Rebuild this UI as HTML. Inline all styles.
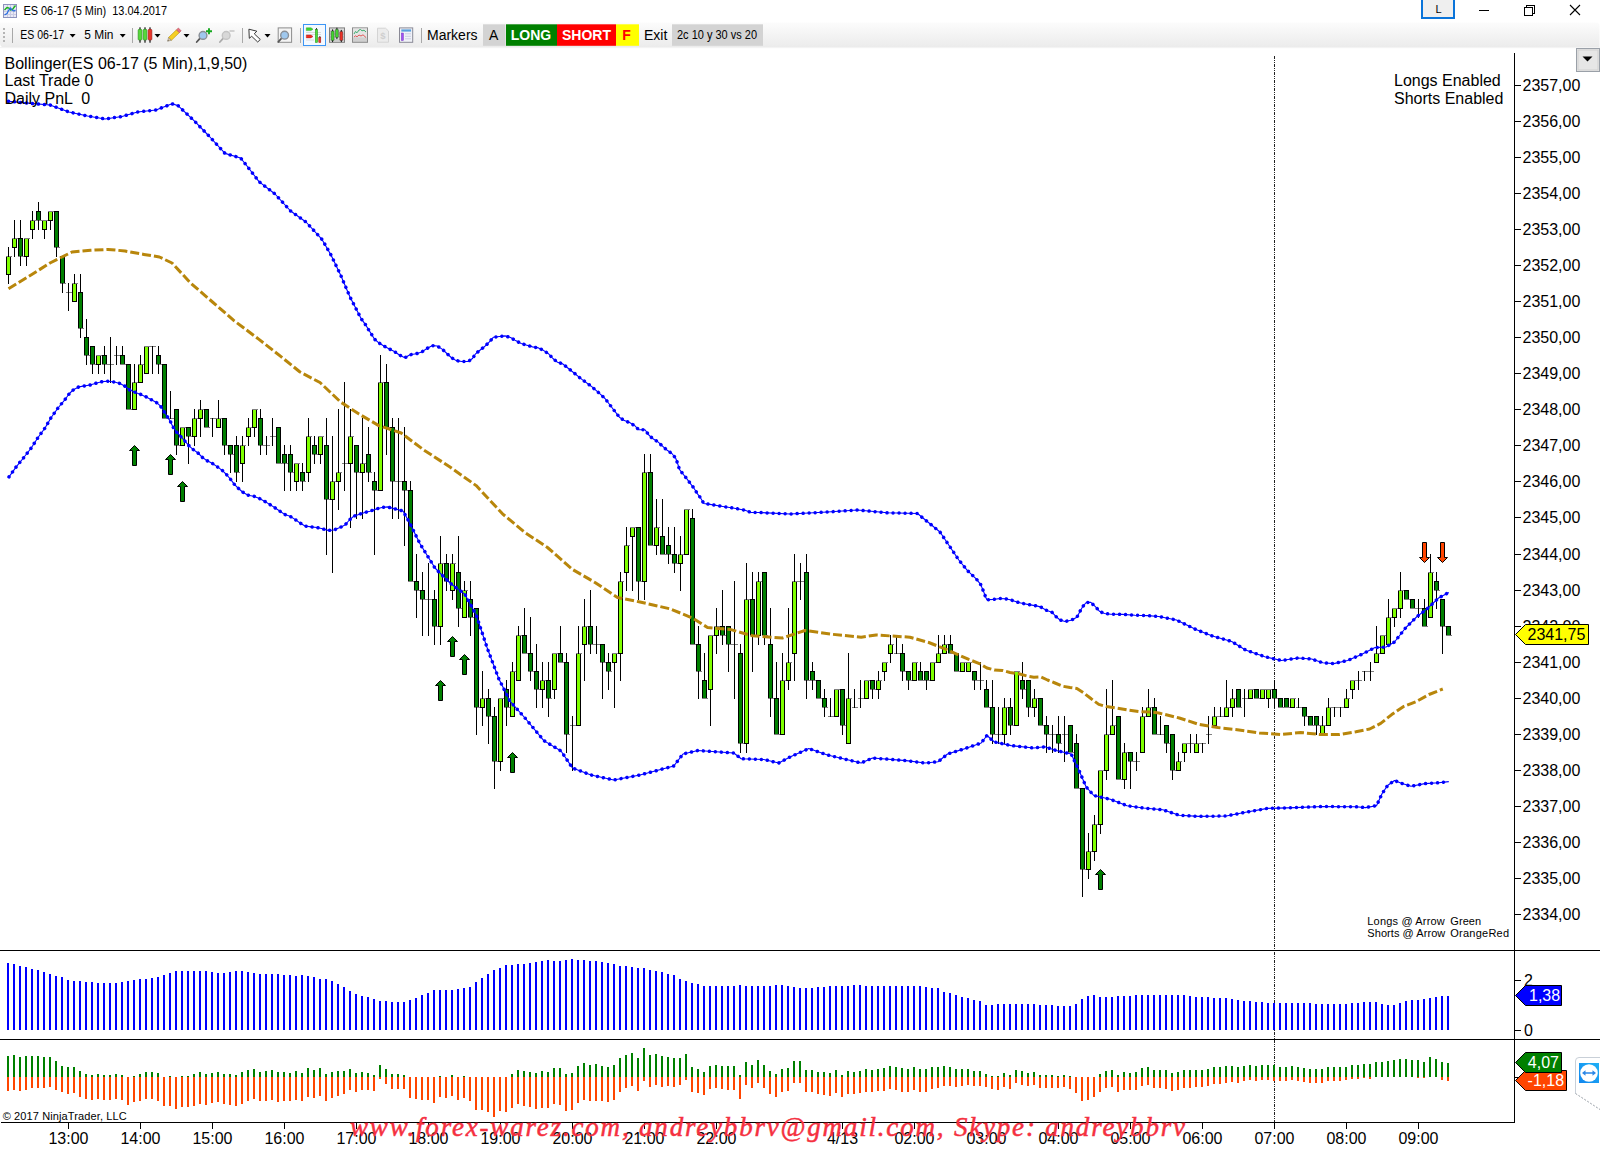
<!DOCTYPE html>
<html><head><meta charset="utf-8"><title>ES 06-17 (5 Min) 13.04.2017</title>
<style>html,body{margin:0;padding:0;background:#fff;}body{width:1600px;height:1160px;overflow:hidden;position:relative;font-family:"Liberation Sans",sans-serif;}svg{position:absolute;left:0;top:0;}text{font-family:"Liberation Sans",sans-serif;}</style></head><body>
<svg width="1600" height="1160" viewBox="0 0 1600 1160">
<defs><linearGradient id="tb" x1="0" y1="0" x2="0" y2="1"><stop offset="0" stop-color="#fcfcfc"/><stop offset="1" stop-color="#ebebeb"/></linearGradient><linearGradient id="tv" x1="0" y1="1" x2="1" y2="0"><stop offset="0" stop-color="#1287ee"/><stop offset="1" stop-color="#1fb0f6"/></linearGradient></defs>
<rect x="0" y="0" width="1600" height="1160" fill="#fff"/>
<path d="M0,22.5 H1596 Q1599.5,22.5 1599.5,26 V47.5 H5 Q0,47.5 0,43 Z" fill="url(#tb)"/>
<rect x="0" y="47" width="1600" height="1.2" fill="#f3f3f3"/>
<g><rect x="3.5" y="4.5" width="13" height="13" fill="#e9e9f5" stroke="#8e94bd" stroke-width="1"/><path d="M7.5,5 V17 M10.5,5 V17 M13.5,5 V17 M4,11.5 H16 M4,14.5 H16" stroke="#c9cbe2" stroke-width="1" fill="none"/><path d="M4.5,10 L7,7.5 L9,8 L10.5,10 L12.5,9.5 L15.5,5.5" stroke="#18b318" stroke-width="1.4" fill="none"/><path d="M4.5,15 L7,13.5 L8.5,10.5 L10.5,8 L12,10 L14,11 L15.5,10" stroke="#2a6fe0" stroke-width="1.3" fill="none"/></g>
<text x="23.4" y="15.4" font-size="12" textLength="143.6" lengthAdjust="spacingAndGlyphs" xml:space="preserve">ES 06-17 (5 Min)  13.04.2017</text>
<rect x="1422" y="-1" width="32" height="19" fill="#efefef" stroke="#0a74da" stroke-width="2"/>
<text x="1438.5" y="12.5" font-size="11" text-anchor="middle">L</text>
<g shape-rendering="crispEdges" fill="none" stroke="#000" stroke-width="1"><path d="M1479,10.5 H1489"/><path d="M1524.5,7.5 H1532.5 V15.5 H1524.5 Z"/><path d="M1526.5,7.5 V5.5 H1534.5 V13.5 H1532.5"/></g>
<path d="M1570,5 L1580,15 M1580,5 L1570,15" stroke="#000" stroke-width="1.1" fill="none"/>
<rect x="3" y="28" width="2" height="2" fill="#b4b4b4"/>
<rect x="3" y="32" width="2" height="2" fill="#b4b4b4"/>
<rect x="3" y="36" width="2" height="2" fill="#b4b4b4"/>
<rect x="3" y="40" width="2" height="2" fill="#b4b4b4"/>
<rect x="12" y="28" width="1" height="15" fill="#a8a8a8" shape-rendering="crispEdges"/>
<text x="20.3" y="38.9" font-size="12" textLength="43.9" lengthAdjust="spacingAndGlyphs">ES 06-17</text>
<path d="M69.6,34.0 H75.6 L72.6,37.4 Z" fill="#000"/>
<text x="84.3" y="38.9" font-size="12" textLength="29.2" lengthAdjust="spacingAndGlyphs">5 Min</text>
<path d="M119.7,34.0 H125.7 L122.7,37.4 Z" fill="#000"/>
<rect x="132" y="28" width="1" height="15" fill="#a8a8a8" shape-rendering="crispEdges"/>
<rect x="139.4" y="27.3" width="1.2" height="15.4" fill="#111"/>
<rect x="138.1" y="29.3" width="3.8" height="10.8" rx="1" fill="#57d83c" stroke="#1d7a10" stroke-width="0.5"/>
<rect x="144.4" y="27.3" width="1.2" height="15.4" fill="#111"/>
<rect x="143.1" y="29.3" width="3.8" height="10.8" rx="1" fill="#57d83c" stroke="#1d7a10" stroke-width="0.5"/>
<rect x="149.4" y="27.3" width="1.2" height="15.4" fill="#111"/>
<rect x="148.1" y="29.3" width="3.8" height="10.8" rx="1" fill="#e8362c" stroke="#8a1410" stroke-width="0.5"/>
<path d="M154.5,34.0 H160.5 L157.5,37.4 Z" fill="#000"/>
<g transform="translate(174.3,34.7) rotate(-44)"><rect x="-6" y="-2" width="11" height="4" fill="#f6cf23" stroke="#b8930c" stroke-width="0.6"/><rect x="5" y="-2" width="2.6" height="4" fill="#e8707e" stroke="#b04855" stroke-width="0.5"/><path d="M-6,-2 L-9.3,0 L-6,2 Z" fill="#d9c9a8" stroke="#8a7a60" stroke-width="0.5"/><path d="M-8.2,-0.7 L-9.3,0 L-8.2,0.7 Z" fill="#444"/></g>
<path d="M183.5,34.0 H189.5 L186.5,37.4 Z" fill="#000"/>
<path d="M200.2,38.199999999999996 L196.7,42.0" stroke="#555" stroke-width="1.8" stroke-linecap="round"/>
<circle cx="203" cy="35.4" r="3.9" fill="#9fc8ee" stroke="#8a8f96" stroke-width="1.4"/>
<path d="M209,28.3 V34.2 M206,31.25 H212" stroke="#14a81e" stroke-width="1.9"/>
<path d="M223.39999999999998,38.199999999999996 L219.89999999999998,42.0" stroke="#aaa" stroke-width="1.8" stroke-linecap="round"/>
<circle cx="226.2" cy="35.4" r="3.9" fill="#d8d8d8" stroke="#c4c4c4" stroke-width="1.4"/>
<path d="M229.5,31 H234.5" stroke="#c8c8c8" stroke-width="1.6"/>
<rect x="242" y="28" width="1" height="15" fill="#a8a8a8" shape-rendering="crispEdges"/>
<path d="M248.9,29.2 L249.3,38.3 L251.7,36.3 L257.7,42 L260.3,39.5 L254.3,33.8 L256.8,31.2 Z" fill="#fff" stroke="#222" stroke-width="0.9" stroke-linejoin="round"/>
<path d="M264.5,34.0 H270.5 L267.5,37.4 Z" fill="#000"/>
<rect x="278.2" y="27.9" width="13.4" height="14.4" fill="#f4f4f4" stroke="#8c8c8c" stroke-width="1"/>
<path d="M281.8,38.0 L278.3,41.800000000000004" stroke="#555" stroke-width="1.8" stroke-linecap="round"/>
<circle cx="284.6" cy="35.2" r="3.9" fill="#9fc8ee" stroke="#8a8f96" stroke-width="1.4"/>
<rect x="300" y="28" width="1" height="15" fill="#a8a8a8" shape-rendering="crispEdges"/>
<rect x="303.5" y="24.5" width="22" height="21" fill="#f4f9ff" stroke="#3c96f5" stroke-width="1"/>
<path d="M306,32.5 H321 M306,34.5 H321 M306,40 H314" stroke="#d2d2d2" stroke-width="0.8"/>
<path d="M306.3,27.8 H311 L313,29.2 L311,30.6 H306.3 Z" fill="#3fd42c" stroke="#1e9a12" stroke-width="0.4"/>
<path d="M306.3,35.1 H311 L313,36.5 L311,37.9 H306.3 Z" fill="#ee2e24" stroke="#a8140e" stroke-width="0.4"/>
<rect x="315.3" y="29.3" width="2.3" height="13.2" fill="#4fdc3a" stroke="#1e8a12" stroke-width="0.5"/>
<rect x="316" y="28" width="0.9" height="1.5" fill="#222"/>
<rect x="318.8" y="37.5" width="2" height="5" fill="#ee3a30" stroke="#99150f" stroke-width="0.5"/>
<rect x="319.4" y="36" width="0.9" height="1.5" fill="#222"/>
<rect x="329.5" y="27.9" width="15" height="14.4" fill="#dcdcdc" stroke="#7e7e7e" stroke-width="1"/>
<path d="M330,31 H344 M330,34 H344 M330,37 H344 M330,40 H344" stroke="#aaa" stroke-width="0.6"/>
<rect x="332.1" y="29.4" width="1" height="12.7" fill="#111"/>
<rect x="331.1" y="31" width="3" height="9.5" rx="0.8" fill="#44d430" stroke="#222" stroke-width="0.4"/>
<rect x="336.4" y="27.7" width="1" height="11.399999999999999" fill="#111"/>
<rect x="335.4" y="29.3" width="3" height="8.2" rx="0.8" fill="#44d430" stroke="#222" stroke-width="0.4"/>
<rect x="340.8" y="29.9" width="1" height="12.2" fill="#111"/>
<rect x="339.8" y="31.5" width="3" height="9.0" rx="0.8" fill="#ec3228" stroke="#222" stroke-width="0.4"/>
<rect x="352.5" y="27.9" width="15" height="14.4" fill="#d0d0d0" stroke="#8a8a8a" stroke-width="1"/>
<rect x="353" y="28.4" width="14" height="9" fill="#e4e4e4"/>
<path d="M354,34 L355.5,31.5 L357,32.8 L359,30 L360.5,29.5 L362,30.8 L364,30.2 L366,32" stroke="#2aa860" stroke-width="0.9" fill="none"/>
<path d="M354,37 L355.5,35.8 L357,36.8 L359,35 L361,36 L363,34.8 L366,37.5" stroke="#e04848" stroke-width="0.9" fill="none"/>
<path d="M377.5,28.2 H385.5 L388.5,31 V42.2 H377.5 Z" fill="#ececec" stroke="#d4d4d4" stroke-width="1"/>
<text x="383" y="39.3" font-size="9.5" font-weight="bold" fill="#cfcfcf" text-anchor="middle">$</text>
<rect x="399.5" y="27.9" width="13.2" height="14.4" fill="#f0f2f8" stroke="#8a8a96" stroke-width="1"/>
<rect x="401.3" y="29.4" width="9.8" height="2.2" fill="#5aa0dc"/>
<rect x="401.3" y="33" width="2.2" height="7.6" fill="#a050f5" stroke="#6a30b0" stroke-width="0.4"/>
<path d="M405,33.8 H411 M405,36.3 H411 M405,38.8 H411" stroke="#c6cbe0" stroke-width="0.9"/>
<rect x="421" y="28" width="1" height="15" fill="#a8a8a8" shape-rendering="crispEdges"/>
<text x="427" y="39.8" font-size="14">Markers</text>
<rect x="483" y="24.3" width="22.5" height="21.5" fill="#d3d3d3"/>
<text x="493.6" y="39.8" font-size="14" text-anchor="middle">A</text>
<rect x="506" y="24.3" width="51" height="21.5" fill="#008000"/>
<text x="531" y="39.8" font-size="14" font-weight="bold" fill="#fff" text-anchor="middle">LONG</text>
<rect x="557" y="24.3" width="59" height="21.5" fill="#ff0000"/>
<text x="586.5" y="39.8" font-size="14" font-weight="bold" fill="#fff" text-anchor="middle">SHORT</text>
<rect x="616" y="24.3" width="23" height="21.5" fill="#ffff00"/>
<text x="626.5" y="39.8" font-size="14" font-weight="bold" fill="#ff0000" text-anchor="middle">F</text>
<text x="644" y="39.8" font-size="14">Exit</text>
<rect x="672" y="24.3" width="91" height="21.5" fill="#d3d3d3"/>
<text x="677" y="38.9" font-size="12" textLength="80" lengthAdjust="spacingAndGlyphs">2c 10 y 30 vs 20</text>
<rect x="1576.5" y="48.5" width="23" height="23" fill="#e6e6e6" stroke="#9aa0a8" stroke-width="1"/>
<rect x="1578" y="50" width="20" height="20" fill="none" stroke="#d0d0d0" stroke-width="1"/>
<path d="M1582.5,56.5 H1592.5 L1587.5,61.5 Z" fill="#000"/>
<g id="chart">
<line x1="1274.5" y1="56" x2="1274.5" y2="1122" stroke="#222" stroke-width="1" stroke-dasharray="3 1 1 1 1 1" shape-rendering="crispEdges"/>
<g shape-rendering="crispEdges">
<rect x="8" y="247" width="1" height="37" fill="#000"/>
<rect x="6" y="256" width="5" height="19" fill="#000"/>
<rect x="7" y="257" width="3" height="17" fill="#7fff00"/>
<rect x="6" y="256" width="6" height="1" fill="#808080"/>
<rect x="8" y="256" width="1" height="1" fill="#000"/>
<rect x="14" y="220" width="1" height="37" fill="#000"/>
<rect x="12" y="238" width="5" height="10" fill="#000"/>
<rect x="13" y="239" width="3" height="8" fill="#7fff00"/>
<rect x="12" y="238" width="6" height="1" fill="#808080"/>
<rect x="14" y="238" width="1" height="1" fill="#000"/>
<rect x="20" y="220" width="1" height="46" fill="#000"/>
<rect x="18" y="238" width="5" height="19" fill="#000"/>
<rect x="19" y="239" width="3" height="17" fill="#008000"/>
<rect x="18" y="256" width="6" height="1" fill="#808080"/>
<rect x="20" y="256" width="1" height="1" fill="#000"/>
<rect x="26" y="238" width="1" height="28" fill="#000"/>
<rect x="24" y="238" width="5" height="19" fill="#000"/>
<rect x="25" y="239" width="3" height="17" fill="#7fff00"/>
<rect x="24" y="238" width="6" height="1" fill="#808080"/>
<rect x="32" y="211" width="1" height="28" fill="#000"/>
<rect x="30" y="220" width="5" height="10" fill="#000"/>
<rect x="31" y="221" width="3" height="8" fill="#7fff00"/>
<rect x="30" y="220" width="6" height="1" fill="#808080"/>
<rect x="32" y="220" width="1" height="1" fill="#000"/>
<rect x="38" y="202" width="1" height="28" fill="#000"/>
<rect x="36" y="211" width="5" height="10" fill="#000"/>
<rect x="37" y="212" width="3" height="8" fill="#008000"/>
<rect x="36" y="220" width="6" height="1" fill="#808080"/>
<rect x="38" y="220" width="1" height="1" fill="#000"/>
<rect x="44" y="220" width="1" height="19" fill="#000"/>
<rect x="42" y="220" width="5" height="10" fill="#000"/>
<rect x="43" y="221" width="3" height="8" fill="#7fff00"/>
<rect x="42" y="220" width="6" height="1" fill="#808080"/>
<rect x="50" y="211" width="1" height="19" fill="#000"/>
<rect x="48" y="211" width="5" height="10" fill="#000"/>
<rect x="49" y="212" width="3" height="8" fill="#7fff00"/>
<rect x="48" y="211" width="6" height="1" fill="#808080"/>
<rect x="56" y="211" width="1" height="46" fill="#000"/>
<rect x="54" y="211" width="5" height="37" fill="#000"/>
<rect x="55" y="212" width="3" height="35" fill="#008000"/>
<rect x="54" y="247" width="6" height="1" fill="#808080"/>
<rect x="56" y="247" width="1" height="1" fill="#000"/>
<rect x="62" y="256" width="1" height="37" fill="#000"/>
<rect x="60" y="256" width="5" height="28" fill="#000"/>
<rect x="61" y="257" width="3" height="26" fill="#008000"/>
<rect x="60" y="283" width="6" height="1" fill="#808080"/>
<rect x="62" y="283" width="1" height="1" fill="#000"/>
<rect x="66" y="292" width="6" height="1" fill="#808080"/>
<rect x="68" y="283" width="1" height="28" fill="#000"/>
<rect x="74" y="274" width="1" height="28" fill="#000"/>
<rect x="72" y="283" width="5" height="19" fill="#000"/>
<rect x="73" y="284" width="3" height="17" fill="#7fff00"/>
<rect x="72" y="283" width="6" height="1" fill="#808080"/>
<rect x="74" y="283" width="1" height="1" fill="#000"/>
<rect x="80" y="274" width="1" height="64" fill="#000"/>
<rect x="78" y="292" width="5" height="37" fill="#000"/>
<rect x="79" y="293" width="3" height="35" fill="#008000"/>
<rect x="78" y="328" width="6" height="1" fill="#808080"/>
<rect x="80" y="328" width="1" height="1" fill="#000"/>
<rect x="86" y="319" width="1" height="46" fill="#000"/>
<rect x="84" y="337" width="5" height="19" fill="#000"/>
<rect x="85" y="338" width="3" height="17" fill="#008000"/>
<rect x="84" y="355" width="6" height="1" fill="#808080"/>
<rect x="86" y="355" width="1" height="1" fill="#000"/>
<rect x="92" y="346" width="1" height="28" fill="#000"/>
<rect x="90" y="346" width="5" height="19" fill="#000"/>
<rect x="91" y="347" width="3" height="17" fill="#008000"/>
<rect x="90" y="364" width="6" height="1" fill="#808080"/>
<rect x="92" y="364" width="1" height="1" fill="#000"/>
<rect x="98" y="355" width="1" height="19" fill="#000"/>
<rect x="96" y="355" width="5" height="10" fill="#000"/>
<rect x="97" y="356" width="3" height="8" fill="#7fff00"/>
<rect x="96" y="355" width="6" height="1" fill="#808080"/>
<rect x="104" y="346" width="1" height="28" fill="#000"/>
<rect x="102" y="355" width="5" height="10" fill="#000"/>
<rect x="103" y="356" width="3" height="8" fill="#008000"/>
<rect x="102" y="364" width="6" height="1" fill="#808080"/>
<rect x="104" y="364" width="1" height="1" fill="#000"/>
<rect x="108" y="364" width="6" height="1" fill="#808080"/>
<rect x="110" y="337" width="1" height="46" fill="#000"/>
<rect x="114" y="355" width="6" height="1" fill="#808080"/>
<rect x="116" y="346" width="1" height="19" fill="#000"/>
<rect x="122" y="346" width="1" height="19" fill="#000"/>
<rect x="120" y="355" width="5" height="10" fill="#000"/>
<rect x="121" y="356" width="3" height="8" fill="#008000"/>
<rect x="120" y="364" width="6" height="1" fill="#808080"/>
<rect x="128" y="364" width="1" height="46" fill="#000"/>
<rect x="126" y="364" width="5" height="46" fill="#000"/>
<rect x="127" y="365" width="3" height="44" fill="#008000"/>
<rect x="126" y="409" width="6" height="1" fill="#808080"/>
<rect x="134" y="364" width="1" height="46" fill="#000"/>
<rect x="132" y="382" width="5" height="28" fill="#000"/>
<rect x="133" y="383" width="3" height="26" fill="#7fff00"/>
<rect x="132" y="382" width="6" height="1" fill="#808080"/>
<rect x="134" y="382" width="1" height="1" fill="#000"/>
<rect x="140" y="355" width="1" height="28" fill="#000"/>
<rect x="138" y="364" width="5" height="19" fill="#000"/>
<rect x="139" y="365" width="3" height="17" fill="#7fff00"/>
<rect x="138" y="364" width="6" height="1" fill="#808080"/>
<rect x="140" y="364" width="1" height="1" fill="#000"/>
<rect x="146" y="346" width="1" height="28" fill="#000"/>
<rect x="144" y="346" width="5" height="28" fill="#000"/>
<rect x="145" y="347" width="3" height="26" fill="#7fff00"/>
<rect x="144" y="346" width="6" height="1" fill="#808080"/>
<rect x="150" y="346" width="6" height="1" fill="#808080"/>
<rect x="152" y="346" width="1" height="28" fill="#000"/>
<rect x="158" y="346" width="1" height="28" fill="#000"/>
<rect x="156" y="355" width="5" height="10" fill="#000"/>
<rect x="157" y="356" width="3" height="8" fill="#008000"/>
<rect x="156" y="364" width="6" height="1" fill="#808080"/>
<rect x="158" y="364" width="1" height="1" fill="#000"/>
<rect x="164" y="364" width="1" height="55" fill="#000"/>
<rect x="162" y="364" width="5" height="55" fill="#000"/>
<rect x="163" y="365" width="3" height="53" fill="#008000"/>
<rect x="162" y="418" width="6" height="1" fill="#808080"/>
<rect x="168" y="418" width="6" height="1" fill="#808080"/>
<rect x="170" y="391" width="1" height="28" fill="#000"/>
<rect x="176" y="409" width="1" height="46" fill="#000"/>
<rect x="174" y="409" width="5" height="37" fill="#000"/>
<rect x="175" y="410" width="3" height="35" fill="#008000"/>
<rect x="174" y="445" width="6" height="1" fill="#808080"/>
<rect x="176" y="445" width="1" height="1" fill="#000"/>
<rect x="182" y="427" width="1" height="19" fill="#000"/>
<rect x="180" y="427" width="5" height="19" fill="#000"/>
<rect x="181" y="428" width="3" height="17" fill="#7fff00"/>
<rect x="180" y="427" width="6" height="1" fill="#808080"/>
<rect x="188" y="427" width="1" height="37" fill="#000"/>
<rect x="186" y="427" width="5" height="10" fill="#000"/>
<rect x="187" y="428" width="3" height="8" fill="#008000"/>
<rect x="186" y="436" width="6" height="1" fill="#808080"/>
<rect x="188" y="436" width="1" height="1" fill="#000"/>
<rect x="194" y="409" width="1" height="37" fill="#000"/>
<rect x="192" y="418" width="5" height="19" fill="#000"/>
<rect x="193" y="419" width="3" height="17" fill="#7fff00"/>
<rect x="192" y="418" width="6" height="1" fill="#808080"/>
<rect x="194" y="418" width="1" height="1" fill="#000"/>
<rect x="200" y="400" width="1" height="37" fill="#000"/>
<rect x="198" y="409" width="5" height="10" fill="#000"/>
<rect x="199" y="410" width="3" height="8" fill="#7fff00"/>
<rect x="198" y="409" width="6" height="1" fill="#808080"/>
<rect x="200" y="409" width="1" height="1" fill="#000"/>
<rect x="206" y="409" width="1" height="19" fill="#000"/>
<rect x="204" y="409" width="5" height="19" fill="#000"/>
<rect x="205" y="410" width="3" height="17" fill="#008000"/>
<rect x="204" y="427" width="6" height="1" fill="#808080"/>
<rect x="210" y="418" width="6" height="1" fill="#808080"/>
<rect x="212" y="418" width="1" height="19" fill="#000"/>
<rect x="218" y="400" width="1" height="28" fill="#000"/>
<rect x="216" y="418" width="5" height="10" fill="#000"/>
<rect x="217" y="419" width="3" height="8" fill="#7fff00"/>
<rect x="216" y="418" width="6" height="1" fill="#808080"/>
<rect x="218" y="418" width="1" height="1" fill="#000"/>
<rect x="224" y="418" width="1" height="37" fill="#000"/>
<rect x="222" y="418" width="5" height="28" fill="#000"/>
<rect x="223" y="419" width="3" height="26" fill="#008000"/>
<rect x="222" y="445" width="6" height="1" fill="#808080"/>
<rect x="224" y="445" width="1" height="1" fill="#000"/>
<rect x="230" y="445" width="1" height="28" fill="#000"/>
<rect x="228" y="445" width="5" height="10" fill="#000"/>
<rect x="229" y="446" width="3" height="8" fill="#008000"/>
<rect x="228" y="454" width="6" height="1" fill="#808080"/>
<rect x="230" y="454" width="1" height="1" fill="#000"/>
<rect x="236" y="436" width="1" height="46" fill="#000"/>
<rect x="234" y="445" width="5" height="28" fill="#000"/>
<rect x="235" y="446" width="3" height="26" fill="#008000"/>
<rect x="234" y="472" width="6" height="1" fill="#808080"/>
<rect x="236" y="472" width="1" height="1" fill="#000"/>
<rect x="242" y="436" width="1" height="46" fill="#000"/>
<rect x="240" y="445" width="5" height="19" fill="#000"/>
<rect x="241" y="446" width="3" height="17" fill="#7fff00"/>
<rect x="240" y="445" width="6" height="1" fill="#808080"/>
<rect x="242" y="445" width="1" height="1" fill="#000"/>
<rect x="248" y="418" width="1" height="28" fill="#000"/>
<rect x="246" y="427" width="5" height="10" fill="#000"/>
<rect x="247" y="428" width="3" height="8" fill="#7fff00"/>
<rect x="246" y="427" width="6" height="1" fill="#808080"/>
<rect x="248" y="427" width="1" height="1" fill="#000"/>
<rect x="254" y="409" width="1" height="28" fill="#000"/>
<rect x="252" y="409" width="5" height="19" fill="#000"/>
<rect x="253" y="410" width="3" height="17" fill="#7fff00"/>
<rect x="252" y="409" width="6" height="1" fill="#808080"/>
<rect x="260" y="409" width="1" height="46" fill="#000"/>
<rect x="258" y="418" width="5" height="28" fill="#000"/>
<rect x="259" y="419" width="3" height="26" fill="#008000"/>
<rect x="258" y="445" width="6" height="1" fill="#808080"/>
<rect x="260" y="445" width="1" height="1" fill="#000"/>
<rect x="264" y="445" width="6" height="1" fill="#808080"/>
<rect x="266" y="436" width="1" height="19" fill="#000"/>
<rect x="270" y="436" width="6" height="1" fill="#808080"/>
<rect x="272" y="418" width="1" height="28" fill="#000"/>
<rect x="278" y="427" width="1" height="37" fill="#000"/>
<rect x="276" y="427" width="5" height="37" fill="#000"/>
<rect x="277" y="428" width="3" height="35" fill="#008000"/>
<rect x="276" y="463" width="6" height="1" fill="#808080"/>
<rect x="284" y="445" width="1" height="46" fill="#000"/>
<rect x="282" y="454" width="5" height="10" fill="#000"/>
<rect x="283" y="455" width="3" height="8" fill="#008000"/>
<rect x="282" y="463" width="6" height="1" fill="#808080"/>
<rect x="284" y="463" width="1" height="1" fill="#000"/>
<rect x="290" y="445" width="1" height="46" fill="#000"/>
<rect x="288" y="454" width="5" height="19" fill="#000"/>
<rect x="289" y="455" width="3" height="17" fill="#008000"/>
<rect x="288" y="472" width="6" height="1" fill="#808080"/>
<rect x="290" y="472" width="1" height="1" fill="#000"/>
<rect x="296" y="463" width="1" height="28" fill="#000"/>
<rect x="294" y="463" width="5" height="19" fill="#000"/>
<rect x="295" y="464" width="3" height="17" fill="#7fff00"/>
<rect x="294" y="463" width="6" height="1" fill="#808080"/>
<rect x="302" y="463" width="1" height="28" fill="#000"/>
<rect x="300" y="472" width="5" height="10" fill="#000"/>
<rect x="301" y="473" width="3" height="8" fill="#008000"/>
<rect x="300" y="481" width="6" height="1" fill="#808080"/>
<rect x="302" y="481" width="1" height="1" fill="#000"/>
<rect x="308" y="418" width="1" height="64" fill="#000"/>
<rect x="306" y="436" width="5" height="37" fill="#000"/>
<rect x="307" y="437" width="3" height="35" fill="#7fff00"/>
<rect x="306" y="436" width="6" height="1" fill="#808080"/>
<rect x="308" y="436" width="1" height="1" fill="#000"/>
<rect x="314" y="436" width="1" height="28" fill="#000"/>
<rect x="312" y="445" width="5" height="10" fill="#000"/>
<rect x="313" y="446" width="3" height="8" fill="#008000"/>
<rect x="312" y="454" width="6" height="1" fill="#808080"/>
<rect x="314" y="454" width="1" height="1" fill="#000"/>
<rect x="320" y="436" width="1" height="28" fill="#000"/>
<rect x="318" y="436" width="5" height="19" fill="#000"/>
<rect x="319" y="437" width="3" height="17" fill="#7fff00"/>
<rect x="318" y="436" width="6" height="1" fill="#808080"/>
<rect x="326" y="418" width="1" height="137" fill="#000"/>
<rect x="324" y="445" width="5" height="55" fill="#000"/>
<rect x="325" y="446" width="3" height="53" fill="#008000"/>
<rect x="324" y="499" width="6" height="1" fill="#808080"/>
<rect x="326" y="499" width="1" height="1" fill="#000"/>
<rect x="332" y="436" width="1" height="137" fill="#000"/>
<rect x="330" y="481" width="5" height="19" fill="#000"/>
<rect x="331" y="482" width="3" height="17" fill="#7fff00"/>
<rect x="330" y="481" width="6" height="1" fill="#808080"/>
<rect x="332" y="481" width="1" height="1" fill="#000"/>
<rect x="338" y="409" width="1" height="101" fill="#000"/>
<rect x="336" y="472" width="5" height="10" fill="#000"/>
<rect x="337" y="473" width="3" height="8" fill="#7fff00"/>
<rect x="336" y="472" width="6" height="1" fill="#808080"/>
<rect x="338" y="472" width="1" height="1" fill="#000"/>
<rect x="342" y="463" width="6" height="1" fill="#808080"/>
<rect x="344" y="382" width="1" height="109" fill="#000"/>
<rect x="350" y="409" width="1" height="119" fill="#000"/>
<rect x="348" y="436" width="5" height="28" fill="#000"/>
<rect x="349" y="437" width="3" height="26" fill="#7fff00"/>
<rect x="348" y="436" width="6" height="1" fill="#808080"/>
<rect x="350" y="436" width="1" height="1" fill="#000"/>
<rect x="356" y="445" width="1" height="74" fill="#000"/>
<rect x="354" y="445" width="5" height="28" fill="#000"/>
<rect x="355" y="446" width="3" height="26" fill="#008000"/>
<rect x="354" y="472" width="6" height="1" fill="#808080"/>
<rect x="356" y="472" width="1" height="1" fill="#000"/>
<rect x="362" y="418" width="1" height="101" fill="#000"/>
<rect x="360" y="463" width="5" height="10" fill="#000"/>
<rect x="361" y="464" width="3" height="8" fill="#7fff00"/>
<rect x="360" y="463" width="6" height="1" fill="#808080"/>
<rect x="362" y="463" width="1" height="1" fill="#000"/>
<rect x="368" y="427" width="1" height="55" fill="#000"/>
<rect x="366" y="454" width="5" height="19" fill="#000"/>
<rect x="367" y="455" width="3" height="17" fill="#008000"/>
<rect x="366" y="472" width="6" height="1" fill="#808080"/>
<rect x="368" y="472" width="1" height="1" fill="#000"/>
<rect x="374" y="472" width="1" height="83" fill="#000"/>
<rect x="372" y="481" width="5" height="10" fill="#000"/>
<rect x="373" y="482" width="3" height="8" fill="#008000"/>
<rect x="372" y="490" width="6" height="1" fill="#808080"/>
<rect x="374" y="490" width="1" height="1" fill="#000"/>
<rect x="380" y="355" width="1" height="136" fill="#000"/>
<rect x="378" y="382" width="5" height="109" fill="#000"/>
<rect x="379" y="383" width="3" height="107" fill="#7fff00"/>
<rect x="378" y="382" width="6" height="1" fill="#808080"/>
<rect x="380" y="382" width="1" height="1" fill="#000"/>
<rect x="386" y="364" width="1" height="91" fill="#000"/>
<rect x="384" y="382" width="5" height="46" fill="#000"/>
<rect x="385" y="383" width="3" height="44" fill="#008000"/>
<rect x="384" y="427" width="6" height="1" fill="#808080"/>
<rect x="386" y="427" width="1" height="1" fill="#000"/>
<rect x="392" y="418" width="1" height="101" fill="#000"/>
<rect x="390" y="427" width="5" height="55" fill="#000"/>
<rect x="391" y="428" width="3" height="53" fill="#008000"/>
<rect x="390" y="481" width="6" height="1" fill="#808080"/>
<rect x="392" y="481" width="1" height="1" fill="#000"/>
<rect x="396" y="481" width="6" height="1" fill="#808080"/>
<rect x="398" y="418" width="1" height="101" fill="#000"/>
<rect x="404" y="427" width="1" height="119" fill="#000"/>
<rect x="402" y="481" width="5" height="10" fill="#000"/>
<rect x="403" y="482" width="3" height="8" fill="#008000"/>
<rect x="402" y="490" width="6" height="1" fill="#808080"/>
<rect x="404" y="490" width="1" height="1" fill="#000"/>
<rect x="410" y="481" width="1" height="101" fill="#000"/>
<rect x="408" y="490" width="5" height="92" fill="#000"/>
<rect x="409" y="491" width="3" height="90" fill="#008000"/>
<rect x="408" y="581" width="6" height="1" fill="#808080"/>
<rect x="416" y="554" width="1" height="64" fill="#000"/>
<rect x="414" y="581" width="5" height="10" fill="#000"/>
<rect x="415" y="582" width="3" height="8" fill="#008000"/>
<rect x="414" y="590" width="6" height="1" fill="#808080"/>
<rect x="416" y="590" width="1" height="1" fill="#000"/>
<rect x="422" y="572" width="1" height="64" fill="#000"/>
<rect x="420" y="590" width="5" height="10" fill="#000"/>
<rect x="421" y="591" width="3" height="8" fill="#008000"/>
<rect x="420" y="599" width="6" height="1" fill="#808080"/>
<rect x="422" y="599" width="1" height="1" fill="#000"/>
<rect x="426" y="599" width="6" height="1" fill="#808080"/>
<rect x="428" y="563" width="1" height="73" fill="#000"/>
<rect x="434" y="590" width="1" height="55" fill="#000"/>
<rect x="432" y="599" width="5" height="28" fill="#000"/>
<rect x="433" y="600" width="3" height="26" fill="#008000"/>
<rect x="432" y="626" width="6" height="1" fill="#808080"/>
<rect x="434" y="626" width="1" height="1" fill="#000"/>
<rect x="440" y="536" width="1" height="109" fill="#000"/>
<rect x="438" y="563" width="5" height="64" fill="#000"/>
<rect x="439" y="564" width="3" height="62" fill="#7fff00"/>
<rect x="438" y="563" width="6" height="1" fill="#808080"/>
<rect x="440" y="563" width="1" height="1" fill="#000"/>
<rect x="446" y="554" width="1" height="37" fill="#000"/>
<rect x="444" y="563" width="5" height="19" fill="#000"/>
<rect x="445" y="564" width="3" height="17" fill="#008000"/>
<rect x="444" y="581" width="6" height="1" fill="#808080"/>
<rect x="446" y="581" width="1" height="1" fill="#000"/>
<rect x="452" y="554" width="1" height="46" fill="#000"/>
<rect x="450" y="563" width="5" height="28" fill="#000"/>
<rect x="451" y="564" width="3" height="26" fill="#7fff00"/>
<rect x="450" y="563" width="6" height="1" fill="#808080"/>
<rect x="452" y="563" width="1" height="1" fill="#000"/>
<rect x="458" y="536" width="1" height="91" fill="#000"/>
<rect x="456" y="572" width="5" height="37" fill="#000"/>
<rect x="457" y="573" width="3" height="35" fill="#008000"/>
<rect x="456" y="608" width="6" height="1" fill="#808080"/>
<rect x="458" y="608" width="1" height="1" fill="#000"/>
<rect x="464" y="581" width="1" height="37" fill="#000"/>
<rect x="462" y="590" width="5" height="28" fill="#000"/>
<rect x="463" y="591" width="3" height="26" fill="#7fff00"/>
<rect x="462" y="590" width="6" height="1" fill="#808080"/>
<rect x="464" y="590" width="1" height="1" fill="#000"/>
<rect x="470" y="581" width="1" height="55" fill="#000"/>
<rect x="468" y="599" width="5" height="19" fill="#000"/>
<rect x="469" y="600" width="3" height="17" fill="#008000"/>
<rect x="468" y="617" width="6" height="1" fill="#808080"/>
<rect x="470" y="617" width="1" height="1" fill="#000"/>
<rect x="476" y="608" width="1" height="127" fill="#000"/>
<rect x="474" y="608" width="5" height="100" fill="#000"/>
<rect x="475" y="609" width="3" height="98" fill="#008000"/>
<rect x="474" y="707" width="6" height="1" fill="#808080"/>
<rect x="476" y="707" width="1" height="1" fill="#000"/>
<rect x="482" y="671" width="1" height="55" fill="#000"/>
<rect x="480" y="698" width="5" height="10" fill="#000"/>
<rect x="481" y="699" width="3" height="8" fill="#7fff00"/>
<rect x="480" y="698" width="6" height="1" fill="#808080"/>
<rect x="482" y="698" width="1" height="1" fill="#000"/>
<rect x="488" y="689" width="1" height="55" fill="#000"/>
<rect x="486" y="698" width="5" height="19" fill="#000"/>
<rect x="487" y="699" width="3" height="17" fill="#008000"/>
<rect x="486" y="716" width="6" height="1" fill="#808080"/>
<rect x="488" y="716" width="1" height="1" fill="#000"/>
<rect x="494" y="707" width="1" height="82" fill="#000"/>
<rect x="492" y="716" width="5" height="46" fill="#000"/>
<rect x="493" y="717" width="3" height="44" fill="#008000"/>
<rect x="492" y="761" width="6" height="1" fill="#808080"/>
<rect x="494" y="761" width="1" height="1" fill="#000"/>
<rect x="500" y="698" width="1" height="73" fill="#000"/>
<rect x="498" y="698" width="5" height="64" fill="#000"/>
<rect x="499" y="699" width="3" height="62" fill="#7fff00"/>
<rect x="498" y="698" width="6" height="1" fill="#808080"/>
<rect x="506" y="680" width="1" height="46" fill="#000"/>
<rect x="504" y="689" width="5" height="19" fill="#000"/>
<rect x="505" y="690" width="3" height="17" fill="#008000"/>
<rect x="504" y="707" width="6" height="1" fill="#808080"/>
<rect x="506" y="707" width="1" height="1" fill="#000"/>
<rect x="512" y="662" width="1" height="55" fill="#000"/>
<rect x="510" y="671" width="5" height="46" fill="#000"/>
<rect x="511" y="672" width="3" height="44" fill="#7fff00"/>
<rect x="510" y="671" width="6" height="1" fill="#808080"/>
<rect x="512" y="671" width="1" height="1" fill="#000"/>
<rect x="518" y="626" width="1" height="55" fill="#000"/>
<rect x="516" y="635" width="5" height="46" fill="#000"/>
<rect x="517" y="636" width="3" height="44" fill="#7fff00"/>
<rect x="516" y="635" width="6" height="1" fill="#808080"/>
<rect x="518" y="635" width="1" height="1" fill="#000"/>
<rect x="524" y="608" width="1" height="46" fill="#000"/>
<rect x="522" y="635" width="5" height="19" fill="#000"/>
<rect x="523" y="636" width="3" height="17" fill="#008000"/>
<rect x="522" y="653" width="6" height="1" fill="#808080"/>
<rect x="530" y="617" width="1" height="64" fill="#000"/>
<rect x="528" y="653" width="5" height="19" fill="#000"/>
<rect x="529" y="654" width="3" height="17" fill="#008000"/>
<rect x="528" y="671" width="6" height="1" fill="#808080"/>
<rect x="530" y="671" width="1" height="1" fill="#000"/>
<rect x="536" y="644" width="1" height="64" fill="#000"/>
<rect x="534" y="671" width="5" height="19" fill="#000"/>
<rect x="535" y="672" width="3" height="17" fill="#008000"/>
<rect x="534" y="689" width="6" height="1" fill="#808080"/>
<rect x="536" y="689" width="1" height="1" fill="#000"/>
<rect x="542" y="662" width="1" height="46" fill="#000"/>
<rect x="540" y="680" width="5" height="10" fill="#000"/>
<rect x="541" y="681" width="3" height="8" fill="#7fff00"/>
<rect x="540" y="680" width="6" height="1" fill="#808080"/>
<rect x="542" y="680" width="1" height="1" fill="#000"/>
<rect x="548" y="662" width="1" height="55" fill="#000"/>
<rect x="546" y="680" width="5" height="19" fill="#000"/>
<rect x="547" y="681" width="3" height="17" fill="#008000"/>
<rect x="546" y="698" width="6" height="1" fill="#808080"/>
<rect x="548" y="698" width="1" height="1" fill="#000"/>
<rect x="554" y="653" width="1" height="46" fill="#000"/>
<rect x="552" y="653" width="5" height="37" fill="#000"/>
<rect x="553" y="654" width="3" height="35" fill="#7fff00"/>
<rect x="552" y="653" width="6" height="1" fill="#808080"/>
<rect x="560" y="626" width="1" height="37" fill="#000"/>
<rect x="558" y="653" width="5" height="10" fill="#000"/>
<rect x="559" y="654" width="3" height="8" fill="#008000"/>
<rect x="558" y="662" width="6" height="1" fill="#808080"/>
<rect x="566" y="653" width="1" height="100" fill="#000"/>
<rect x="564" y="662" width="5" height="73" fill="#000"/>
<rect x="565" y="663" width="3" height="71" fill="#008000"/>
<rect x="564" y="734" width="6" height="1" fill="#808080"/>
<rect x="566" y="734" width="1" height="1" fill="#000"/>
<rect x="570" y="725" width="6" height="1" fill="#808080"/>
<rect x="572" y="716" width="1" height="55" fill="#000"/>
<rect x="578" y="626" width="1" height="100" fill="#000"/>
<rect x="576" y="653" width="5" height="73" fill="#000"/>
<rect x="577" y="654" width="3" height="71" fill="#7fff00"/>
<rect x="576" y="653" width="6" height="1" fill="#808080"/>
<rect x="578" y="653" width="1" height="1" fill="#000"/>
<rect x="584" y="599" width="1" height="82" fill="#000"/>
<rect x="582" y="626" width="5" height="19" fill="#000"/>
<rect x="583" y="627" width="3" height="17" fill="#7fff00"/>
<rect x="582" y="626" width="6" height="1" fill="#808080"/>
<rect x="584" y="626" width="1" height="1" fill="#000"/>
<rect x="590" y="590" width="1" height="64" fill="#000"/>
<rect x="588" y="626" width="5" height="19" fill="#000"/>
<rect x="589" y="627" width="3" height="17" fill="#008000"/>
<rect x="588" y="644" width="6" height="1" fill="#808080"/>
<rect x="590" y="644" width="1" height="1" fill="#000"/>
<rect x="594" y="644" width="6" height="1" fill="#808080"/>
<rect x="596" y="626" width="1" height="28" fill="#000"/>
<rect x="602" y="644" width="1" height="55" fill="#000"/>
<rect x="600" y="644" width="5" height="19" fill="#000"/>
<rect x="601" y="645" width="3" height="17" fill="#008000"/>
<rect x="600" y="662" width="6" height="1" fill="#808080"/>
<rect x="602" y="662" width="1" height="1" fill="#000"/>
<rect x="608" y="653" width="1" height="37" fill="#000"/>
<rect x="606" y="662" width="5" height="10" fill="#000"/>
<rect x="607" y="663" width="3" height="8" fill="#008000"/>
<rect x="606" y="671" width="6" height="1" fill="#808080"/>
<rect x="608" y="671" width="1" height="1" fill="#000"/>
<rect x="614" y="653" width="1" height="55" fill="#000"/>
<rect x="612" y="653" width="5" height="10" fill="#000"/>
<rect x="613" y="654" width="3" height="8" fill="#7fff00"/>
<rect x="612" y="653" width="6" height="1" fill="#808080"/>
<rect x="620" y="572" width="1" height="109" fill="#000"/>
<rect x="618" y="581" width="5" height="73" fill="#000"/>
<rect x="619" y="582" width="3" height="71" fill="#7fff00"/>
<rect x="618" y="581" width="6" height="1" fill="#808080"/>
<rect x="620" y="581" width="1" height="1" fill="#000"/>
<rect x="626" y="527" width="1" height="64" fill="#000"/>
<rect x="624" y="545" width="5" height="28" fill="#000"/>
<rect x="625" y="546" width="3" height="26" fill="#7fff00"/>
<rect x="624" y="545" width="6" height="1" fill="#808080"/>
<rect x="626" y="545" width="1" height="1" fill="#000"/>
<rect x="632" y="527" width="1" height="64" fill="#000"/>
<rect x="630" y="527" width="5" height="10" fill="#000"/>
<rect x="631" y="528" width="3" height="8" fill="#7fff00"/>
<rect x="630" y="527" width="6" height="1" fill="#808080"/>
<rect x="638" y="527" width="1" height="73" fill="#000"/>
<rect x="636" y="527" width="5" height="55" fill="#000"/>
<rect x="637" y="528" width="3" height="53" fill="#008000"/>
<rect x="636" y="581" width="6" height="1" fill="#808080"/>
<rect x="638" y="581" width="1" height="1" fill="#000"/>
<rect x="644" y="454" width="1" height="146" fill="#000"/>
<rect x="642" y="472" width="5" height="110" fill="#000"/>
<rect x="643" y="473" width="3" height="108" fill="#7fff00"/>
<rect x="642" y="472" width="6" height="1" fill="#808080"/>
<rect x="644" y="472" width="1" height="1" fill="#000"/>
<rect x="650" y="454" width="1" height="92" fill="#000"/>
<rect x="648" y="472" width="5" height="74" fill="#000"/>
<rect x="649" y="473" width="3" height="72" fill="#008000"/>
<rect x="648" y="545" width="6" height="1" fill="#808080"/>
<rect x="656" y="499" width="1" height="56" fill="#000"/>
<rect x="654" y="527" width="5" height="19" fill="#000"/>
<rect x="655" y="528" width="3" height="17" fill="#7fff00"/>
<rect x="654" y="527" width="6" height="1" fill="#808080"/>
<rect x="656" y="527" width="1" height="1" fill="#000"/>
<rect x="662" y="499" width="1" height="56" fill="#000"/>
<rect x="660" y="536" width="5" height="19" fill="#000"/>
<rect x="661" y="537" width="3" height="17" fill="#008000"/>
<rect x="660" y="554" width="6" height="1" fill="#808080"/>
<rect x="668" y="527" width="1" height="37" fill="#000"/>
<rect x="666" y="545" width="5" height="10" fill="#000"/>
<rect x="667" y="546" width="3" height="8" fill="#008000"/>
<rect x="666" y="554" width="6" height="1" fill="#808080"/>
<rect x="668" y="554" width="1" height="1" fill="#000"/>
<rect x="674" y="527" width="1" height="46" fill="#000"/>
<rect x="672" y="554" width="5" height="10" fill="#000"/>
<rect x="673" y="555" width="3" height="8" fill="#008000"/>
<rect x="672" y="563" width="6" height="1" fill="#808080"/>
<rect x="674" y="563" width="1" height="1" fill="#000"/>
<rect x="680" y="536" width="1" height="55" fill="#000"/>
<rect x="678" y="554" width="5" height="10" fill="#000"/>
<rect x="679" y="555" width="3" height="8" fill="#7fff00"/>
<rect x="678" y="554" width="6" height="1" fill="#808080"/>
<rect x="680" y="554" width="1" height="1" fill="#000"/>
<rect x="686" y="509" width="1" height="46" fill="#000"/>
<rect x="684" y="509" width="5" height="46" fill="#000"/>
<rect x="685" y="510" width="3" height="44" fill="#7fff00"/>
<rect x="684" y="509" width="6" height="1" fill="#808080"/>
<rect x="692" y="509" width="1" height="136" fill="#000"/>
<rect x="690" y="518" width="5" height="127" fill="#000"/>
<rect x="691" y="519" width="3" height="125" fill="#008000"/>
<rect x="690" y="644" width="6" height="1" fill="#808080"/>
<rect x="698" y="626" width="1" height="73" fill="#000"/>
<rect x="696" y="644" width="5" height="28" fill="#000"/>
<rect x="697" y="645" width="3" height="26" fill="#008000"/>
<rect x="696" y="671" width="6" height="1" fill="#808080"/>
<rect x="698" y="671" width="1" height="1" fill="#000"/>
<rect x="704" y="653" width="1" height="46" fill="#000"/>
<rect x="702" y="680" width="5" height="19" fill="#000"/>
<rect x="703" y="681" width="3" height="17" fill="#008000"/>
<rect x="702" y="698" width="6" height="1" fill="#808080"/>
<rect x="710" y="635" width="1" height="91" fill="#000"/>
<rect x="708" y="635" width="5" height="55" fill="#000"/>
<rect x="709" y="636" width="3" height="53" fill="#7fff00"/>
<rect x="708" y="635" width="6" height="1" fill="#808080"/>
<rect x="716" y="608" width="1" height="46" fill="#000"/>
<rect x="714" y="626" width="5" height="10" fill="#000"/>
<rect x="715" y="627" width="3" height="8" fill="#7fff00"/>
<rect x="714" y="626" width="6" height="1" fill="#808080"/>
<rect x="716" y="626" width="1" height="1" fill="#000"/>
<rect x="722" y="590" width="1" height="55" fill="#000"/>
<rect x="720" y="626" width="5" height="10" fill="#000"/>
<rect x="721" y="627" width="3" height="8" fill="#008000"/>
<rect x="720" y="635" width="6" height="1" fill="#808080"/>
<rect x="722" y="635" width="1" height="1" fill="#000"/>
<rect x="728" y="626" width="1" height="46" fill="#000"/>
<rect x="726" y="626" width="5" height="19" fill="#000"/>
<rect x="727" y="627" width="3" height="17" fill="#008000"/>
<rect x="726" y="644" width="6" height="1" fill="#808080"/>
<rect x="728" y="644" width="1" height="1" fill="#000"/>
<rect x="732" y="644" width="6" height="1" fill="#808080"/>
<rect x="734" y="581" width="1" height="118" fill="#000"/>
<rect x="740" y="644" width="1" height="109" fill="#000"/>
<rect x="738" y="653" width="5" height="91" fill="#000"/>
<rect x="739" y="654" width="3" height="89" fill="#008000"/>
<rect x="738" y="743" width="6" height="1" fill="#808080"/>
<rect x="740" y="743" width="1" height="1" fill="#000"/>
<rect x="746" y="563" width="1" height="190" fill="#000"/>
<rect x="744" y="599" width="5" height="145" fill="#000"/>
<rect x="745" y="600" width="3" height="143" fill="#7fff00"/>
<rect x="744" y="599" width="6" height="1" fill="#808080"/>
<rect x="746" y="599" width="1" height="1" fill="#000"/>
<rect x="752" y="572" width="1" height="100" fill="#000"/>
<rect x="750" y="599" width="5" height="37" fill="#000"/>
<rect x="751" y="600" width="3" height="35" fill="#008000"/>
<rect x="750" y="635" width="6" height="1" fill="#808080"/>
<rect x="752" y="635" width="1" height="1" fill="#000"/>
<rect x="758" y="572" width="1" height="73" fill="#000"/>
<rect x="756" y="581" width="5" height="55" fill="#000"/>
<rect x="757" y="582" width="3" height="53" fill="#7fff00"/>
<rect x="756" y="581" width="6" height="1" fill="#808080"/>
<rect x="758" y="581" width="1" height="1" fill="#000"/>
<rect x="764" y="572" width="1" height="73" fill="#000"/>
<rect x="762" y="572" width="5" height="64" fill="#000"/>
<rect x="763" y="573" width="3" height="62" fill="#008000"/>
<rect x="762" y="635" width="6" height="1" fill="#808080"/>
<rect x="764" y="635" width="1" height="1" fill="#000"/>
<rect x="770" y="608" width="1" height="109" fill="#000"/>
<rect x="768" y="644" width="5" height="55" fill="#000"/>
<rect x="769" y="645" width="3" height="53" fill="#008000"/>
<rect x="768" y="698" width="6" height="1" fill="#808080"/>
<rect x="770" y="698" width="1" height="1" fill="#000"/>
<rect x="776" y="662" width="1" height="73" fill="#000"/>
<rect x="774" y="698" width="5" height="37" fill="#000"/>
<rect x="775" y="699" width="3" height="35" fill="#008000"/>
<rect x="774" y="734" width="6" height="1" fill="#808080"/>
<rect x="782" y="653" width="1" height="82" fill="#000"/>
<rect x="780" y="680" width="5" height="55" fill="#000"/>
<rect x="781" y="681" width="3" height="53" fill="#7fff00"/>
<rect x="780" y="680" width="6" height="1" fill="#808080"/>
<rect x="782" y="680" width="1" height="1" fill="#000"/>
<rect x="788" y="608" width="1" height="82" fill="#000"/>
<rect x="786" y="662" width="5" height="19" fill="#000"/>
<rect x="787" y="663" width="3" height="17" fill="#7fff00"/>
<rect x="786" y="662" width="6" height="1" fill="#808080"/>
<rect x="788" y="662" width="1" height="1" fill="#000"/>
<rect x="794" y="554" width="1" height="127" fill="#000"/>
<rect x="792" y="581" width="5" height="73" fill="#000"/>
<rect x="793" y="582" width="3" height="71" fill="#7fff00"/>
<rect x="792" y="581" width="6" height="1" fill="#808080"/>
<rect x="794" y="581" width="1" height="1" fill="#000"/>
<rect x="798" y="581" width="6" height="1" fill="#808080"/>
<rect x="800" y="563" width="1" height="37" fill="#000"/>
<rect x="806" y="554" width="1" height="145" fill="#000"/>
<rect x="804" y="572" width="5" height="109" fill="#000"/>
<rect x="805" y="573" width="3" height="107" fill="#008000"/>
<rect x="804" y="680" width="6" height="1" fill="#808080"/>
<rect x="806" y="680" width="1" height="1" fill="#000"/>
<rect x="812" y="662" width="1" height="28" fill="#000"/>
<rect x="810" y="671" width="5" height="10" fill="#000"/>
<rect x="811" y="672" width="3" height="8" fill="#008000"/>
<rect x="810" y="680" width="6" height="1" fill="#808080"/>
<rect x="812" y="680" width="1" height="1" fill="#000"/>
<rect x="818" y="680" width="1" height="19" fill="#000"/>
<rect x="816" y="680" width="5" height="19" fill="#000"/>
<rect x="817" y="681" width="3" height="17" fill="#008000"/>
<rect x="816" y="698" width="6" height="1" fill="#808080"/>
<rect x="824" y="689" width="1" height="28" fill="#000"/>
<rect x="822" y="698" width="5" height="10" fill="#000"/>
<rect x="823" y="699" width="3" height="8" fill="#008000"/>
<rect x="822" y="707" width="6" height="1" fill="#808080"/>
<rect x="824" y="707" width="1" height="1" fill="#000"/>
<rect x="828" y="716" width="6" height="1" fill="#808080"/>
<rect x="830" y="698" width="1" height="19" fill="#000"/>
<rect x="836" y="689" width="1" height="28" fill="#000"/>
<rect x="834" y="689" width="5" height="28" fill="#000"/>
<rect x="835" y="690" width="3" height="26" fill="#7fff00"/>
<rect x="834" y="689" width="6" height="1" fill="#808080"/>
<rect x="842" y="689" width="1" height="46" fill="#000"/>
<rect x="840" y="689" width="5" height="37" fill="#000"/>
<rect x="841" y="690" width="3" height="35" fill="#008000"/>
<rect x="840" y="725" width="6" height="1" fill="#808080"/>
<rect x="842" y="725" width="1" height="1" fill="#000"/>
<rect x="848" y="653" width="1" height="91" fill="#000"/>
<rect x="846" y="698" width="5" height="46" fill="#000"/>
<rect x="847" y="699" width="3" height="44" fill="#7fff00"/>
<rect x="846" y="698" width="6" height="1" fill="#808080"/>
<rect x="848" y="698" width="1" height="1" fill="#000"/>
<rect x="852" y="707" width="6" height="1" fill="#808080"/>
<rect x="854" y="689" width="1" height="19" fill="#000"/>
<rect x="858" y="698" width="6" height="1" fill="#808080"/>
<rect x="860" y="680" width="1" height="28" fill="#000"/>
<rect x="866" y="680" width="1" height="19" fill="#000"/>
<rect x="864" y="680" width="5" height="19" fill="#000"/>
<rect x="865" y="681" width="3" height="17" fill="#7fff00"/>
<rect x="864" y="680" width="6" height="1" fill="#808080"/>
<rect x="872" y="680" width="1" height="19" fill="#000"/>
<rect x="870" y="680" width="5" height="10" fill="#000"/>
<rect x="871" y="681" width="3" height="8" fill="#008000"/>
<rect x="870" y="689" width="6" height="1" fill="#808080"/>
<rect x="872" y="689" width="1" height="1" fill="#000"/>
<rect x="878" y="671" width="1" height="28" fill="#000"/>
<rect x="876" y="680" width="5" height="10" fill="#000"/>
<rect x="877" y="681" width="3" height="8" fill="#7fff00"/>
<rect x="876" y="680" width="6" height="1" fill="#808080"/>
<rect x="878" y="680" width="1" height="1" fill="#000"/>
<rect x="884" y="662" width="1" height="19" fill="#000"/>
<rect x="882" y="662" width="5" height="10" fill="#000"/>
<rect x="883" y="663" width="3" height="8" fill="#7fff00"/>
<rect x="882" y="662" width="6" height="1" fill="#808080"/>
<rect x="890" y="635" width="1" height="28" fill="#000"/>
<rect x="888" y="644" width="5" height="10" fill="#000"/>
<rect x="889" y="645" width="3" height="8" fill="#7fff00"/>
<rect x="888" y="644" width="6" height="1" fill="#808080"/>
<rect x="890" y="644" width="1" height="1" fill="#000"/>
<rect x="894" y="653" width="6" height="1" fill="#808080"/>
<rect x="896" y="635" width="1" height="19" fill="#000"/>
<rect x="902" y="644" width="1" height="37" fill="#000"/>
<rect x="900" y="653" width="5" height="19" fill="#000"/>
<rect x="901" y="654" width="3" height="17" fill="#008000"/>
<rect x="900" y="671" width="6" height="1" fill="#808080"/>
<rect x="902" y="671" width="1" height="1" fill="#000"/>
<rect x="908" y="671" width="1" height="19" fill="#000"/>
<rect x="906" y="671" width="5" height="10" fill="#000"/>
<rect x="907" y="672" width="3" height="8" fill="#008000"/>
<rect x="906" y="680" width="6" height="1" fill="#808080"/>
<rect x="908" y="680" width="1" height="1" fill="#000"/>
<rect x="914" y="662" width="1" height="19" fill="#000"/>
<rect x="912" y="662" width="5" height="19" fill="#000"/>
<rect x="913" y="663" width="3" height="17" fill="#7fff00"/>
<rect x="912" y="662" width="6" height="1" fill="#808080"/>
<rect x="920" y="662" width="1" height="19" fill="#000"/>
<rect x="918" y="671" width="5" height="10" fill="#000"/>
<rect x="919" y="672" width="3" height="8" fill="#008000"/>
<rect x="918" y="680" width="6" height="1" fill="#808080"/>
<rect x="926" y="671" width="1" height="19" fill="#000"/>
<rect x="924" y="671" width="5" height="10" fill="#000"/>
<rect x="925" y="672" width="3" height="8" fill="#008000"/>
<rect x="924" y="680" width="6" height="1" fill="#808080"/>
<rect x="926" y="680" width="1" height="1" fill="#000"/>
<rect x="932" y="662" width="1" height="19" fill="#000"/>
<rect x="930" y="662" width="5" height="19" fill="#000"/>
<rect x="931" y="663" width="3" height="17" fill="#7fff00"/>
<rect x="930" y="662" width="6" height="1" fill="#808080"/>
<rect x="938" y="635" width="1" height="28" fill="#000"/>
<rect x="936" y="653" width="5" height="10" fill="#000"/>
<rect x="937" y="654" width="3" height="8" fill="#7fff00"/>
<rect x="936" y="653" width="6" height="1" fill="#808080"/>
<rect x="938" y="653" width="1" height="1" fill="#000"/>
<rect x="944" y="635" width="1" height="19" fill="#000"/>
<rect x="942" y="644" width="5" height="10" fill="#000"/>
<rect x="943" y="645" width="3" height="8" fill="#7fff00"/>
<rect x="942" y="644" width="6" height="1" fill="#808080"/>
<rect x="944" y="644" width="1" height="1" fill="#000"/>
<rect x="950" y="635" width="1" height="19" fill="#000"/>
<rect x="948" y="644" width="5" height="10" fill="#000"/>
<rect x="949" y="645" width="3" height="8" fill="#008000"/>
<rect x="948" y="653" width="6" height="1" fill="#808080"/>
<rect x="956" y="653" width="1" height="19" fill="#000"/>
<rect x="954" y="653" width="5" height="19" fill="#000"/>
<rect x="955" y="654" width="3" height="17" fill="#008000"/>
<rect x="954" y="671" width="6" height="1" fill="#808080"/>
<rect x="962" y="662" width="1" height="10" fill="#000"/>
<rect x="960" y="662" width="5" height="10" fill="#000"/>
<rect x="961" y="663" width="3" height="8" fill="#7fff00"/>
<rect x="960" y="662" width="6" height="1" fill="#808080"/>
<rect x="968" y="662" width="1" height="10" fill="#000"/>
<rect x="966" y="662" width="5" height="10" fill="#000"/>
<rect x="967" y="663" width="3" height="8" fill="#7fff00"/>
<rect x="966" y="662" width="6" height="1" fill="#808080"/>
<rect x="974" y="671" width="1" height="19" fill="#000"/>
<rect x="972" y="671" width="5" height="10" fill="#000"/>
<rect x="973" y="672" width="3" height="8" fill="#008000"/>
<rect x="972" y="680" width="6" height="1" fill="#808080"/>
<rect x="974" y="680" width="1" height="1" fill="#000"/>
<rect x="978" y="680" width="6" height="1" fill="#808080"/>
<rect x="980" y="662" width="1" height="28" fill="#000"/>
<rect x="986" y="680" width="1" height="28" fill="#000"/>
<rect x="984" y="689" width="5" height="19" fill="#000"/>
<rect x="985" y="690" width="3" height="17" fill="#008000"/>
<rect x="984" y="707" width="6" height="1" fill="#808080"/>
<rect x="992" y="680" width="1" height="64" fill="#000"/>
<rect x="990" y="707" width="5" height="28" fill="#000"/>
<rect x="991" y="708" width="3" height="26" fill="#008000"/>
<rect x="990" y="734" width="6" height="1" fill="#808080"/>
<rect x="992" y="734" width="1" height="1" fill="#000"/>
<rect x="996" y="734" width="6" height="1" fill="#808080"/>
<rect x="998" y="707" width="1" height="37" fill="#000"/>
<rect x="1004" y="698" width="1" height="46" fill="#000"/>
<rect x="1002" y="707" width="5" height="28" fill="#000"/>
<rect x="1003" y="708" width="3" height="26" fill="#7fff00"/>
<rect x="1002" y="707" width="6" height="1" fill="#808080"/>
<rect x="1004" y="707" width="1" height="1" fill="#000"/>
<rect x="1010" y="698" width="1" height="37" fill="#000"/>
<rect x="1008" y="707" width="5" height="19" fill="#000"/>
<rect x="1009" y="708" width="3" height="17" fill="#008000"/>
<rect x="1008" y="725" width="6" height="1" fill="#808080"/>
<rect x="1010" y="725" width="1" height="1" fill="#000"/>
<rect x="1016" y="671" width="1" height="55" fill="#000"/>
<rect x="1014" y="671" width="5" height="55" fill="#000"/>
<rect x="1015" y="672" width="3" height="53" fill="#7fff00"/>
<rect x="1014" y="671" width="6" height="1" fill="#808080"/>
<rect x="1022" y="662" width="1" height="37" fill="#000"/>
<rect x="1020" y="680" width="5" height="10" fill="#000"/>
<rect x="1021" y="681" width="3" height="8" fill="#008000"/>
<rect x="1020" y="689" width="6" height="1" fill="#808080"/>
<rect x="1022" y="689" width="1" height="1" fill="#000"/>
<rect x="1028" y="680" width="1" height="37" fill="#000"/>
<rect x="1026" y="680" width="5" height="28" fill="#000"/>
<rect x="1027" y="681" width="3" height="26" fill="#008000"/>
<rect x="1026" y="707" width="6" height="1" fill="#808080"/>
<rect x="1028" y="707" width="1" height="1" fill="#000"/>
<rect x="1034" y="689" width="1" height="28" fill="#000"/>
<rect x="1032" y="698" width="5" height="10" fill="#000"/>
<rect x="1033" y="699" width="3" height="8" fill="#7fff00"/>
<rect x="1032" y="698" width="6" height="1" fill="#808080"/>
<rect x="1034" y="698" width="1" height="1" fill="#000"/>
<rect x="1040" y="698" width="1" height="28" fill="#000"/>
<rect x="1038" y="698" width="5" height="28" fill="#000"/>
<rect x="1039" y="699" width="3" height="26" fill="#008000"/>
<rect x="1038" y="725" width="6" height="1" fill="#808080"/>
<rect x="1046" y="716" width="1" height="37" fill="#000"/>
<rect x="1044" y="725" width="5" height="10" fill="#000"/>
<rect x="1045" y="726" width="3" height="8" fill="#008000"/>
<rect x="1044" y="734" width="6" height="1" fill="#808080"/>
<rect x="1046" y="734" width="1" height="1" fill="#000"/>
<rect x="1050" y="734" width="6" height="1" fill="#808080"/>
<rect x="1052" y="725" width="1" height="28" fill="#000"/>
<rect x="1058" y="716" width="1" height="37" fill="#000"/>
<rect x="1056" y="734" width="5" height="10" fill="#000"/>
<rect x="1057" y="735" width="3" height="8" fill="#008000"/>
<rect x="1056" y="743" width="6" height="1" fill="#808080"/>
<rect x="1058" y="743" width="1" height="1" fill="#000"/>
<rect x="1062" y="734" width="6" height="1" fill="#808080"/>
<rect x="1064" y="716" width="1" height="46" fill="#000"/>
<rect x="1070" y="725" width="1" height="28" fill="#000"/>
<rect x="1068" y="725" width="5" height="28" fill="#000"/>
<rect x="1069" y="726" width="3" height="26" fill="#008000"/>
<rect x="1068" y="752" width="6" height="1" fill="#808080"/>
<rect x="1076" y="734" width="1" height="55" fill="#000"/>
<rect x="1074" y="743" width="5" height="46" fill="#000"/>
<rect x="1075" y="744" width="3" height="44" fill="#008000"/>
<rect x="1074" y="788" width="6" height="1" fill="#808080"/>
<rect x="1082" y="788" width="1" height="109" fill="#000"/>
<rect x="1080" y="788" width="5" height="82" fill="#000"/>
<rect x="1081" y="789" width="3" height="80" fill="#008000"/>
<rect x="1080" y="869" width="6" height="1" fill="#808080"/>
<rect x="1082" y="869" width="1" height="1" fill="#000"/>
<rect x="1088" y="833" width="1" height="46" fill="#000"/>
<rect x="1086" y="851" width="5" height="19" fill="#000"/>
<rect x="1087" y="852" width="3" height="17" fill="#7fff00"/>
<rect x="1086" y="851" width="6" height="1" fill="#808080"/>
<rect x="1088" y="851" width="1" height="1" fill="#000"/>
<rect x="1094" y="815" width="1" height="46" fill="#000"/>
<rect x="1092" y="824" width="5" height="28" fill="#000"/>
<rect x="1093" y="825" width="3" height="26" fill="#7fff00"/>
<rect x="1092" y="824" width="6" height="1" fill="#808080"/>
<rect x="1094" y="824" width="1" height="1" fill="#000"/>
<rect x="1100" y="770" width="1" height="64" fill="#000"/>
<rect x="1098" y="770" width="5" height="55" fill="#000"/>
<rect x="1099" y="771" width="3" height="53" fill="#7fff00"/>
<rect x="1098" y="770" width="6" height="1" fill="#808080"/>
<rect x="1106" y="689" width="1" height="91" fill="#000"/>
<rect x="1104" y="734" width="5" height="37" fill="#000"/>
<rect x="1105" y="735" width="3" height="35" fill="#7fff00"/>
<rect x="1104" y="734" width="6" height="1" fill="#808080"/>
<rect x="1106" y="734" width="1" height="1" fill="#000"/>
<rect x="1112" y="680" width="1" height="55" fill="#000"/>
<rect x="1110" y="725" width="5" height="10" fill="#000"/>
<rect x="1111" y="726" width="3" height="8" fill="#7fff00"/>
<rect x="1110" y="725" width="6" height="1" fill="#808080"/>
<rect x="1112" y="725" width="1" height="1" fill="#000"/>
<rect x="1118" y="716" width="1" height="64" fill="#000"/>
<rect x="1116" y="716" width="5" height="64" fill="#000"/>
<rect x="1117" y="717" width="3" height="62" fill="#008000"/>
<rect x="1116" y="779" width="6" height="1" fill="#808080"/>
<rect x="1124" y="743" width="1" height="46" fill="#000"/>
<rect x="1122" y="752" width="5" height="28" fill="#000"/>
<rect x="1123" y="753" width="3" height="26" fill="#7fff00"/>
<rect x="1122" y="752" width="6" height="1" fill="#808080"/>
<rect x="1124" y="752" width="1" height="1" fill="#000"/>
<rect x="1130" y="752" width="1" height="37" fill="#000"/>
<rect x="1128" y="752" width="5" height="10" fill="#000"/>
<rect x="1129" y="753" width="3" height="8" fill="#008000"/>
<rect x="1128" y="761" width="6" height="1" fill="#808080"/>
<rect x="1130" y="761" width="1" height="1" fill="#000"/>
<rect x="1134" y="761" width="6" height="1" fill="#808080"/>
<rect x="1136" y="752" width="1" height="19" fill="#000"/>
<rect x="1142" y="707" width="1" height="46" fill="#000"/>
<rect x="1140" y="716" width="5" height="37" fill="#000"/>
<rect x="1141" y="717" width="3" height="35" fill="#7fff00"/>
<rect x="1140" y="716" width="6" height="1" fill="#808080"/>
<rect x="1142" y="716" width="1" height="1" fill="#000"/>
<rect x="1148" y="689" width="1" height="28" fill="#000"/>
<rect x="1146" y="707" width="5" height="10" fill="#000"/>
<rect x="1147" y="708" width="3" height="8" fill="#7fff00"/>
<rect x="1146" y="707" width="6" height="1" fill="#808080"/>
<rect x="1148" y="707" width="1" height="1" fill="#000"/>
<rect x="1154" y="698" width="1" height="37" fill="#000"/>
<rect x="1152" y="707" width="5" height="28" fill="#000"/>
<rect x="1153" y="708" width="3" height="26" fill="#008000"/>
<rect x="1152" y="734" width="6" height="1" fill="#808080"/>
<rect x="1158" y="734" width="6" height="1" fill="#808080"/>
<rect x="1160" y="716" width="1" height="19" fill="#000"/>
<rect x="1166" y="725" width="1" height="28" fill="#000"/>
<rect x="1164" y="725" width="5" height="19" fill="#000"/>
<rect x="1165" y="726" width="3" height="17" fill="#008000"/>
<rect x="1164" y="743" width="6" height="1" fill="#808080"/>
<rect x="1166" y="743" width="1" height="1" fill="#000"/>
<rect x="1172" y="734" width="1" height="46" fill="#000"/>
<rect x="1170" y="734" width="5" height="37" fill="#000"/>
<rect x="1171" y="735" width="3" height="35" fill="#008000"/>
<rect x="1170" y="770" width="6" height="1" fill="#808080"/>
<rect x="1172" y="770" width="1" height="1" fill="#000"/>
<rect x="1178" y="752" width="1" height="19" fill="#000"/>
<rect x="1176" y="761" width="5" height="10" fill="#000"/>
<rect x="1177" y="762" width="3" height="8" fill="#7fff00"/>
<rect x="1176" y="761" width="6" height="1" fill="#808080"/>
<rect x="1178" y="761" width="1" height="1" fill="#000"/>
<rect x="1184" y="743" width="1" height="19" fill="#000"/>
<rect x="1182" y="743" width="5" height="10" fill="#000"/>
<rect x="1183" y="744" width="3" height="8" fill="#7fff00"/>
<rect x="1182" y="743" width="6" height="1" fill="#808080"/>
<rect x="1188" y="743" width="6" height="1" fill="#808080"/>
<rect x="1190" y="734" width="1" height="19" fill="#000"/>
<rect x="1196" y="734" width="1" height="19" fill="#000"/>
<rect x="1194" y="743" width="5" height="10" fill="#000"/>
<rect x="1195" y="744" width="3" height="8" fill="#7fff00"/>
<rect x="1194" y="743" width="6" height="1" fill="#808080"/>
<rect x="1196" y="743" width="1" height="1" fill="#000"/>
<rect x="1200" y="743" width="6" height="1" fill="#808080"/>
<rect x="1202" y="743" width="1" height="10" fill="#000"/>
<rect x="1206" y="734" width="6" height="1" fill="#808080"/>
<rect x="1208" y="716" width="1" height="28" fill="#000"/>
<rect x="1214" y="707" width="1" height="19" fill="#000"/>
<rect x="1212" y="716" width="5" height="10" fill="#000"/>
<rect x="1213" y="717" width="3" height="8" fill="#7fff00"/>
<rect x="1212" y="716" width="6" height="1" fill="#808080"/>
<rect x="1214" y="716" width="1" height="1" fill="#000"/>
<rect x="1218" y="716" width="6" height="1" fill="#808080"/>
<rect x="1220" y="707" width="1" height="10" fill="#000"/>
<rect x="1226" y="680" width="1" height="37" fill="#000"/>
<rect x="1224" y="707" width="5" height="10" fill="#000"/>
<rect x="1225" y="708" width="3" height="8" fill="#7fff00"/>
<rect x="1224" y="707" width="6" height="1" fill="#808080"/>
<rect x="1226" y="707" width="1" height="1" fill="#000"/>
<rect x="1232" y="689" width="1" height="28" fill="#000"/>
<rect x="1230" y="698" width="5" height="10" fill="#000"/>
<rect x="1231" y="699" width="3" height="8" fill="#7fff00"/>
<rect x="1230" y="698" width="6" height="1" fill="#808080"/>
<rect x="1232" y="698" width="1" height="1" fill="#000"/>
<rect x="1238" y="689" width="1" height="19" fill="#000"/>
<rect x="1236" y="689" width="5" height="19" fill="#000"/>
<rect x="1237" y="690" width="3" height="17" fill="#008000"/>
<rect x="1236" y="707" width="6" height="1" fill="#808080"/>
<rect x="1242" y="698" width="6" height="1" fill="#808080"/>
<rect x="1244" y="689" width="1" height="28" fill="#000"/>
<rect x="1250" y="689" width="1" height="10" fill="#000"/>
<rect x="1248" y="689" width="5" height="10" fill="#000"/>
<rect x="1249" y="690" width="3" height="8" fill="#7fff00"/>
<rect x="1248" y="689" width="6" height="1" fill="#808080"/>
<rect x="1256" y="689" width="1" height="10" fill="#000"/>
<rect x="1254" y="689" width="5" height="10" fill="#000"/>
<rect x="1255" y="690" width="3" height="8" fill="#008000"/>
<rect x="1254" y="698" width="6" height="1" fill="#808080"/>
<rect x="1262" y="689" width="1" height="10" fill="#000"/>
<rect x="1260" y="689" width="5" height="10" fill="#000"/>
<rect x="1261" y="690" width="3" height="8" fill="#7fff00"/>
<rect x="1260" y="689" width="6" height="1" fill="#808080"/>
<rect x="1268" y="689" width="1" height="19" fill="#000"/>
<rect x="1266" y="689" width="5" height="10" fill="#000"/>
<rect x="1267" y="690" width="3" height="8" fill="#7fff00"/>
<rect x="1266" y="689" width="6" height="1" fill="#808080"/>
<rect x="1274" y="680" width="1" height="28" fill="#000"/>
<rect x="1272" y="689" width="5" height="10" fill="#000"/>
<rect x="1273" y="690" width="3" height="8" fill="#008000"/>
<rect x="1272" y="698" width="6" height="1" fill="#808080"/>
<rect x="1274" y="698" width="1" height="1" fill="#000"/>
<rect x="1280" y="698" width="1" height="10" fill="#000"/>
<rect x="1278" y="698" width="5" height="10" fill="#000"/>
<rect x="1279" y="699" width="3" height="8" fill="#008000"/>
<rect x="1278" y="707" width="6" height="1" fill="#808080"/>
<rect x="1286" y="698" width="1" height="10" fill="#000"/>
<rect x="1284" y="698" width="5" height="10" fill="#000"/>
<rect x="1285" y="699" width="3" height="8" fill="#008000"/>
<rect x="1284" y="707" width="6" height="1" fill="#808080"/>
<rect x="1292" y="698" width="1" height="10" fill="#000"/>
<rect x="1290" y="698" width="5" height="10" fill="#000"/>
<rect x="1291" y="699" width="3" height="8" fill="#7fff00"/>
<rect x="1290" y="698" width="6" height="1" fill="#808080"/>
<rect x="1296" y="707" width="6" height="1" fill="#808080"/>
<rect x="1298" y="698" width="1" height="10" fill="#000"/>
<rect x="1304" y="707" width="1" height="19" fill="#000"/>
<rect x="1302" y="707" width="5" height="10" fill="#000"/>
<rect x="1303" y="708" width="3" height="8" fill="#008000"/>
<rect x="1302" y="716" width="6" height="1" fill="#808080"/>
<rect x="1304" y="716" width="1" height="1" fill="#000"/>
<rect x="1310" y="716" width="1" height="10" fill="#000"/>
<rect x="1308" y="716" width="5" height="10" fill="#000"/>
<rect x="1309" y="717" width="3" height="8" fill="#008000"/>
<rect x="1308" y="725" width="6" height="1" fill="#808080"/>
<rect x="1316" y="716" width="1" height="19" fill="#000"/>
<rect x="1314" y="716" width="5" height="10" fill="#000"/>
<rect x="1315" y="717" width="3" height="8" fill="#008000"/>
<rect x="1314" y="725" width="6" height="1" fill="#808080"/>
<rect x="1316" y="725" width="1" height="1" fill="#000"/>
<rect x="1322" y="716" width="1" height="19" fill="#000"/>
<rect x="1320" y="725" width="5" height="10" fill="#000"/>
<rect x="1321" y="726" width="3" height="8" fill="#7fff00"/>
<rect x="1320" y="725" width="6" height="1" fill="#808080"/>
<rect x="1322" y="725" width="1" height="1" fill="#000"/>
<rect x="1328" y="698" width="1" height="28" fill="#000"/>
<rect x="1326" y="707" width="5" height="19" fill="#000"/>
<rect x="1327" y="708" width="3" height="17" fill="#7fff00"/>
<rect x="1326" y="707" width="6" height="1" fill="#808080"/>
<rect x="1328" y="707" width="1" height="1" fill="#000"/>
<rect x="1332" y="707" width="6" height="1" fill="#808080"/>
<rect x="1334" y="707" width="1" height="10" fill="#000"/>
<rect x="1338" y="707" width="6" height="1" fill="#808080"/>
<rect x="1340" y="707" width="1" height="10" fill="#000"/>
<rect x="1346" y="689" width="1" height="19" fill="#000"/>
<rect x="1344" y="698" width="5" height="10" fill="#000"/>
<rect x="1345" y="699" width="3" height="8" fill="#7fff00"/>
<rect x="1344" y="698" width="6" height="1" fill="#808080"/>
<rect x="1346" y="698" width="1" height="1" fill="#000"/>
<rect x="1352" y="680" width="1" height="19" fill="#000"/>
<rect x="1350" y="680" width="5" height="10" fill="#000"/>
<rect x="1351" y="681" width="3" height="8" fill="#7fff00"/>
<rect x="1350" y="680" width="6" height="1" fill="#808080"/>
<rect x="1356" y="680" width="6" height="1" fill="#808080"/>
<rect x="1358" y="671" width="1" height="19" fill="#000"/>
<rect x="1362" y="671" width="6" height="1" fill="#808080"/>
<rect x="1364" y="671" width="1" height="10" fill="#000"/>
<rect x="1368" y="671" width="6" height="1" fill="#808080"/>
<rect x="1370" y="662" width="1" height="19" fill="#000"/>
<rect x="1376" y="626" width="1" height="37" fill="#000"/>
<rect x="1374" y="653" width="5" height="10" fill="#000"/>
<rect x="1375" y="654" width="3" height="8" fill="#7fff00"/>
<rect x="1374" y="653" width="6" height="1" fill="#808080"/>
<rect x="1376" y="653" width="1" height="1" fill="#000"/>
<rect x="1382" y="635" width="1" height="19" fill="#000"/>
<rect x="1380" y="635" width="5" height="19" fill="#000"/>
<rect x="1381" y="636" width="3" height="17" fill="#7fff00"/>
<rect x="1380" y="635" width="6" height="1" fill="#808080"/>
<rect x="1388" y="599" width="1" height="46" fill="#000"/>
<rect x="1386" y="617" width="5" height="28" fill="#000"/>
<rect x="1387" y="618" width="3" height="26" fill="#7fff00"/>
<rect x="1386" y="617" width="6" height="1" fill="#808080"/>
<rect x="1388" y="617" width="1" height="1" fill="#000"/>
<rect x="1394" y="608" width="1" height="19" fill="#000"/>
<rect x="1392" y="608" width="5" height="10" fill="#000"/>
<rect x="1393" y="609" width="3" height="8" fill="#7fff00"/>
<rect x="1392" y="608" width="6" height="1" fill="#808080"/>
<rect x="1400" y="572" width="1" height="46" fill="#000"/>
<rect x="1398" y="590" width="5" height="19" fill="#000"/>
<rect x="1399" y="591" width="3" height="17" fill="#7fff00"/>
<rect x="1398" y="590" width="6" height="1" fill="#808080"/>
<rect x="1400" y="590" width="1" height="1" fill="#000"/>
<rect x="1406" y="590" width="1" height="10" fill="#000"/>
<rect x="1404" y="590" width="5" height="10" fill="#000"/>
<rect x="1405" y="591" width="3" height="8" fill="#008000"/>
<rect x="1404" y="599" width="6" height="1" fill="#808080"/>
<rect x="1412" y="599" width="1" height="10" fill="#000"/>
<rect x="1410" y="599" width="5" height="10" fill="#000"/>
<rect x="1411" y="600" width="3" height="8" fill="#008000"/>
<rect x="1410" y="608" width="6" height="1" fill="#808080"/>
<rect x="1416" y="608" width="6" height="1" fill="#808080"/>
<rect x="1418" y="599" width="1" height="19" fill="#000"/>
<rect x="1424" y="599" width="1" height="28" fill="#000"/>
<rect x="1422" y="608" width="5" height="19" fill="#000"/>
<rect x="1423" y="609" width="3" height="17" fill="#008000"/>
<rect x="1422" y="626" width="6" height="1" fill="#808080"/>
<rect x="1430" y="554" width="1" height="64" fill="#000"/>
<rect x="1428" y="572" width="5" height="46" fill="#000"/>
<rect x="1429" y="573" width="3" height="44" fill="#7fff00"/>
<rect x="1428" y="572" width="6" height="1" fill="#808080"/>
<rect x="1430" y="572" width="1" height="1" fill="#000"/>
<rect x="1436" y="572" width="1" height="37" fill="#000"/>
<rect x="1434" y="581" width="5" height="10" fill="#000"/>
<rect x="1435" y="582" width="3" height="8" fill="#008000"/>
<rect x="1434" y="590" width="6" height="1" fill="#808080"/>
<rect x="1436" y="590" width="1" height="1" fill="#000"/>
<rect x="1442" y="599" width="1" height="55" fill="#000"/>
<rect x="1440" y="599" width="5" height="28" fill="#000"/>
<rect x="1441" y="600" width="3" height="26" fill="#008000"/>
<rect x="1440" y="626" width="6" height="1" fill="#808080"/>
<rect x="1442" y="626" width="1" height="1" fill="#000"/>
<rect x="1448" y="626" width="1" height="10" fill="#000"/>
<rect x="1446" y="626" width="5" height="10" fill="#000"/>
<rect x="1447" y="627" width="3" height="8" fill="#008000"/>
<rect x="1446" y="635" width="6" height="1" fill="#808080"/>
</g>
<path d="M8.5,288.8 L31.0,275.0 L50.0,263.0 L72.0,252.0 L90.6,250.3 L108.0,249.4 L125.0,251.0 L143.8,254.4 L159.4,257.0 L172.0,263.0 L190.6,283.0 L212.5,302.0 L234.0,320.6 L259.0,339.4 L281.0,356.6 L300.0,372.0 L320.0,382.5 L340.6,402.0 L359.0,414.0 L378.8,425.6 L401.2,433.0 L423.8,450.0 L450.0,467.0 L476.2,485.6 L502.5,513.8 L525.0,532.5 L547.5,547.5 L572.5,569.4 L595.0,582.5 L617.5,597.5 L640.0,602.0 L670.0,608.8 L692.5,618.0 L707.5,627.5 L730.0,629.4 L752.5,635.8 L782.5,638.0 L805.0,630.5 L831.2,634.2 L861.2,637.2 L876.2,635.0 L910.0,637.2 L928.8,642.5 L947.5,650.0 L960.0,655.6 L968.8,659.4 L980.0,663.8 L986.9,668.0 L994.4,670.0 L1002.5,670.4 L1010.0,672.5 L1018.8,673.8 L1027.5,676.2 L1033.8,677.2 L1040.6,676.9 L1047.5,680.0 L1055.0,683.0 L1062.5,686.2 L1070.0,687.5 L1076.9,688.5 L1083.8,693.0 L1091.2,698.8 L1098.8,704.4 L1106.2,706.5 L1116.2,708.0 L1127.5,710.0 L1138.8,711.6 L1150.0,711.9 L1158.8,713.0 L1179.3,718.0 L1198.6,724.3 L1218.0,727.6 L1237.2,729.8 L1259.3,733.0 L1281.4,734.5 L1300.7,732.5 L1320.0,734.5 L1339.3,734.5 L1355.9,731.7 L1369.7,729.0 L1380.7,723.4 L1391.7,714.6 L1404.0,706.3 L1416.5,701.4 L1429.0,694.5 L1442.8,689.0" fill="none" stroke="#b8860b" stroke-width="3" stroke-dasharray="9 3" stroke-linejoin="round"/>
<path d="M8.5,101.3 L31.0,103.4 L50.0,105.0 L69.0,112.0 L87.5,116.0 L105.0,119.0 L122.0,116.5 L137.5,112.0 L156.0,110.0 L172.0,103.8 L178.0,105.6 L194.0,120.6 L209.0,136.0 L225.0,153.4 L240.6,158.0 L247.0,166.0 L259.0,181.6 L275.0,194.0 L290.6,211.0 L306.0,222.0 L322.0,239.4 L331.0,255.0 L340.6,275.0 L350.0,297.0 L361.2,318.8 L365.0,323.8 L368.0,328.8 L371.2,333.8 L374.4,339.0 L378.8,342.8 L383.8,346.0 L389.4,349.0 L394.4,351.5 L399.4,355.0 L404.8,357.8 L410.0,354.8 L416.2,353.8 L421.9,351.9 L426.9,348.5 L432.5,345.6 L437.2,346.0 L442.5,349.4 L446.9,353.5 L451.2,357.5 L456.2,360.6 L461.9,361.5 L468.0,361.5 L472.5,358.5 L475.6,353.8 L480.2,350.0 L485.0,346.2 L489.4,341.9 L493.5,337.2 L499.4,336.5 L505.0,335.9 L510.6,337.5 L515.6,340.6 L521.2,343.5 L526.9,345.2 L532.5,346.9 L538.5,347.9 L543.8,350.6 L548.8,354.0 L552.9,358.5 L557.5,362.2 L562.5,363.8 L571.9,371.2 L581.9,379.4 L591.2,386.2 L600.0,393.8 L605.0,398.5 L611.9,407.5 L619.4,417.2 L624.4,420.6 L630.0,422.8 L635.0,425.9 L638.8,429.8 L645.0,429.8 L648.8,435.0 L653.0,438.8 L658.0,441.9 L662.5,446.2 L666.9,450.0 L671.9,453.5 L675.6,458.0 L677.5,463.0 L679.4,469.4 L683.0,474.0 L686.9,478.8 L690.6,483.8 L693.8,488.0 L697.5,493.8 L700.6,498.0 L703.8,503.5 L710.0,504.4 L721.2,506.2 L733.0,508.0 L745.0,510.2 L751.2,512.5 L758.8,512.5 L790.0,514.0 L827.5,512.0 L857.5,510.0 L887.5,512.8 L917.5,513.5 L940.0,532.0 L958.8,560.0 L967.5,570.6 L976.2,578.8 L980.6,584.4 L983.0,590.0 L985.6,596.9 L986.9,599.8 L993.8,599.4 L1000.0,598.5 L1005.6,598.8 L1011.2,600.0 L1017.5,602.2 L1023.0,603.5 L1028.8,604.6 L1035.0,605.6 L1040.6,606.9 L1046.2,610.2 L1051.9,612.2 L1055.6,616.2 L1060.0,620.0 L1065.0,621.5 L1071.2,620.2 L1076.9,617.2 L1079.4,612.5 L1082.5,606.9 L1086.2,602.5 L1090.6,602.2 L1095.6,606.9 L1099.4,611.2 L1104.4,613.5 L1110.6,614.2 L1122.5,614.4 L1135.0,615.2 L1147.5,615.6 L1158.8,616.5 L1176.5,620.0 L1196.0,629.6 L1212.4,636.0 L1231.7,641.5 L1245.5,650.0 L1264.8,656.7 L1281.4,660.5 L1298.0,658.0 L1311.7,659.0 L1322.8,662.8 L1333.8,663.6 L1347.6,660.5 L1361.4,654.5 L1375.0,647.6 L1386.0,647.0 L1394.5,642.0 L1405.5,628.0 L1416.5,617.0 L1427.6,608.4 L1438.6,598.0 L1448.8,592.4" fill="none" stroke="#0000ff" stroke-width="1.1" stroke-linejoin="round"/>
<path d="M8.5,101.3 L31.0,103.4 L50.0,105.0 L69.0,112.0 L87.5,116.0 L105.0,119.0 L122.0,116.5 L137.5,112.0 L156.0,110.0 L172.0,103.8 L178.0,105.6 L194.0,120.6 L209.0,136.0 L225.0,153.4 L240.6,158.0 L247.0,166.0 L259.0,181.6 L275.0,194.0 L290.6,211.0 L306.0,222.0 L322.0,239.4 L331.0,255.0 L340.6,275.0 L350.0,297.0 L361.2,318.8 L365.0,323.8 L368.0,328.8 L371.2,333.8 L374.4,339.0 L378.8,342.8 L383.8,346.0 L389.4,349.0 L394.4,351.5 L399.4,355.0 L404.8,357.8 L410.0,354.8 L416.2,353.8 L421.9,351.9 L426.9,348.5 L432.5,345.6 L437.2,346.0 L442.5,349.4 L446.9,353.5 L451.2,357.5 L456.2,360.6 L461.9,361.5 L468.0,361.5 L472.5,358.5 L475.6,353.8 L480.2,350.0 L485.0,346.2 L489.4,341.9 L493.5,337.2 L499.4,336.5 L505.0,335.9 L510.6,337.5 L515.6,340.6 L521.2,343.5 L526.9,345.2 L532.5,346.9 L538.5,347.9 L543.8,350.6 L548.8,354.0 L552.9,358.5 L557.5,362.2 L562.5,363.8 L571.9,371.2 L581.9,379.4 L591.2,386.2 L600.0,393.8 L605.0,398.5 L611.9,407.5 L619.4,417.2 L624.4,420.6 L630.0,422.8 L635.0,425.9 L638.8,429.8 L645.0,429.8 L648.8,435.0 L653.0,438.8 L658.0,441.9 L662.5,446.2 L666.9,450.0 L671.9,453.5 L675.6,458.0 L677.5,463.0 L679.4,469.4 L683.0,474.0 L686.9,478.8 L690.6,483.8 L693.8,488.0 L697.5,493.8 L700.6,498.0 L703.8,503.5 L710.0,504.4 L721.2,506.2 L733.0,508.0 L745.0,510.2 L751.2,512.5 L758.8,512.5 L790.0,514.0 L827.5,512.0 L857.5,510.0 L887.5,512.8 L917.5,513.5 L940.0,532.0 L958.8,560.0 L967.5,570.6 L976.2,578.8 L980.6,584.4 L983.0,590.0 L985.6,596.9 L986.9,599.8 L993.8,599.4 L1000.0,598.5 L1005.6,598.8 L1011.2,600.0 L1017.5,602.2 L1023.0,603.5 L1028.8,604.6 L1035.0,605.6 L1040.6,606.9 L1046.2,610.2 L1051.9,612.2 L1055.6,616.2 L1060.0,620.0 L1065.0,621.5 L1071.2,620.2 L1076.9,617.2 L1079.4,612.5 L1082.5,606.9 L1086.2,602.5 L1090.6,602.2 L1095.6,606.9 L1099.4,611.2 L1104.4,613.5 L1110.6,614.2 L1122.5,614.4 L1135.0,615.2 L1147.5,615.6 L1158.8,616.5 L1176.5,620.0 L1196.0,629.6 L1212.4,636.0 L1231.7,641.5 L1245.5,650.0 L1264.8,656.7 L1281.4,660.5 L1298.0,658.0 L1311.7,659.0 L1322.8,662.8 L1333.8,663.6 L1347.6,660.5 L1361.4,654.5 L1375.0,647.6 L1386.0,647.0 L1394.5,642.0 L1405.5,628.0 L1416.5,617.0 L1427.6,608.4 L1438.6,598.0 L1448.8,592.4" fill="none" stroke="#0000ff" stroke-width="3.5" stroke-dasharray="0.01 6" stroke-linecap="round" stroke-linejoin="round"/>
<path d="M9.0,476.9 L16.2,466.9 L23.8,457.5 L31.2,448.0 L38.0,437.5 L45.0,428.0 L51.2,417.5 L58.0,408.0 L65.6,398.8 L69.4,393.5 L73.8,389.4 L78.8,386.9 L90.0,385.0 L96.9,383.0 L102.5,381.5 L107.5,381.2 L114.4,382.0 L120.0,383.5 L125.0,386.2 L129.4,389.8 L135.0,392.2 L140.6,394.4 L146.2,396.9 L151.9,400.0 L156.9,402.8 L160.6,406.2 L163.8,411.2 L167.5,416.9 L170.6,421.9 L173.0,426.9 L176.9,432.5 L181.2,436.9 L185.0,441.2 L188.8,445.6 L193.0,449.4 L198.0,453.0 L202.5,457.5 L206.9,460.6 L212.5,463.5 L217.5,466.9 L222.5,470.6 L226.9,475.0 L230.6,479.4 L234.4,484.4 L238.0,488.0 L242.5,492.0 L248.0,495.2 L253.8,496.2 L259.4,498.5 L265.0,501.5 L270.0,504.6 L275.0,507.8 L280.0,511.2 L285.0,514.6 L290.0,516.2 L295.0,519.4 L300.0,523.0 L305.0,526.0 L311.2,526.9 L316.9,527.5 L322.5,528.8 L328.0,530.4 L333.8,530.0 L340.0,527.5 L345.0,525.0 L349.4,520.0 L353.8,516.2 L358.8,514.4 L365.0,512.5 L370.0,511.2 L376.2,509.0 L381.9,507.5 L387.5,506.9 L403.0,511.0 L408.8,521.2 L420.0,543.8 L435.0,568.0 L450.0,583.0 L465.0,594.4 L476.2,615.0 L487.5,648.8 L498.8,678.8 L510.0,701.2 L525.0,718.0 L543.8,740.6 L561.0,751.0 L572.5,768.0 L591.0,775.0 L613.8,780.0 L640.0,775.0 L673.8,766.0 L683.0,754.0 L698.0,750.5 L733.8,753.0 L741.2,758.8 L763.8,759.5 L778.8,763.0 L790.0,757.0 L808.8,748.6 L827.5,755.0 L861.2,763.0 L872.5,758.0 L906.2,760.6 L925.0,763.0 L938.0,761.8 L947.5,754.0 L962.5,749.4 L981.2,743.0 L987.0,735.5 L994.4,742.0 L1011.2,745.6 L1033.8,748.0 L1045.0,746.8 L1056.2,750.5 L1071.2,754.0 L1078.8,770.0 L1086.2,787.0 L1093.8,795.5 L1110.3,799.3 L1127.0,805.7 L1143.4,808.0 L1162.8,809.8 L1179.3,815.3 L1198.6,816.4 L1226.2,816.0 L1245.5,812.3 L1267.6,808.4 L1295.0,807.6 L1322.8,806.5 L1355.9,806.8 L1365.5,807.6 L1376.5,805.7 L1382.0,793.8 L1387.6,785.5 L1394.5,780.5 L1401.4,783.3 L1411.0,786.3 L1424.8,783.6 L1438.6,782.8 L1448.8,781.6" fill="none" stroke="#0000ff" stroke-width="1.1" stroke-linejoin="round"/>
<path d="M9.0,476.9 L16.2,466.9 L23.8,457.5 L31.2,448.0 L38.0,437.5 L45.0,428.0 L51.2,417.5 L58.0,408.0 L65.6,398.8 L69.4,393.5 L73.8,389.4 L78.8,386.9 L90.0,385.0 L96.9,383.0 L102.5,381.5 L107.5,381.2 L114.4,382.0 L120.0,383.5 L125.0,386.2 L129.4,389.8 L135.0,392.2 L140.6,394.4 L146.2,396.9 L151.9,400.0 L156.9,402.8 L160.6,406.2 L163.8,411.2 L167.5,416.9 L170.6,421.9 L173.0,426.9 L176.9,432.5 L181.2,436.9 L185.0,441.2 L188.8,445.6 L193.0,449.4 L198.0,453.0 L202.5,457.5 L206.9,460.6 L212.5,463.5 L217.5,466.9 L222.5,470.6 L226.9,475.0 L230.6,479.4 L234.4,484.4 L238.0,488.0 L242.5,492.0 L248.0,495.2 L253.8,496.2 L259.4,498.5 L265.0,501.5 L270.0,504.6 L275.0,507.8 L280.0,511.2 L285.0,514.6 L290.0,516.2 L295.0,519.4 L300.0,523.0 L305.0,526.0 L311.2,526.9 L316.9,527.5 L322.5,528.8 L328.0,530.4 L333.8,530.0 L340.0,527.5 L345.0,525.0 L349.4,520.0 L353.8,516.2 L358.8,514.4 L365.0,512.5 L370.0,511.2 L376.2,509.0 L381.9,507.5 L387.5,506.9 L403.0,511.0 L408.8,521.2 L420.0,543.8 L435.0,568.0 L450.0,583.0 L465.0,594.4 L476.2,615.0 L487.5,648.8 L498.8,678.8 L510.0,701.2 L525.0,718.0 L543.8,740.6 L561.0,751.0 L572.5,768.0 L591.0,775.0 L613.8,780.0 L640.0,775.0 L673.8,766.0 L683.0,754.0 L698.0,750.5 L733.8,753.0 L741.2,758.8 L763.8,759.5 L778.8,763.0 L790.0,757.0 L808.8,748.6 L827.5,755.0 L861.2,763.0 L872.5,758.0 L906.2,760.6 L925.0,763.0 L938.0,761.8 L947.5,754.0 L962.5,749.4 L981.2,743.0 L987.0,735.5 L994.4,742.0 L1011.2,745.6 L1033.8,748.0 L1045.0,746.8 L1056.2,750.5 L1071.2,754.0 L1078.8,770.0 L1086.2,787.0 L1093.8,795.5 L1110.3,799.3 L1127.0,805.7 L1143.4,808.0 L1162.8,809.8 L1179.3,815.3 L1198.6,816.4 L1226.2,816.0 L1245.5,812.3 L1267.6,808.4 L1295.0,807.6 L1322.8,806.5 L1355.9,806.8 L1365.5,807.6 L1376.5,805.7 L1382.0,793.8 L1387.6,785.5 L1394.5,780.5 L1401.4,783.3 L1411.0,786.3 L1424.8,783.6 L1438.6,782.8 L1448.8,781.6" fill="none" stroke="#0000ff" stroke-width="3.5" stroke-dasharray="0.01 6" stroke-linecap="round" stroke-linejoin="round"/>
<polygon points="134.5,445.5 139.5,450.5 136.5,450.5 136.5,465.5 132.5,465.5 132.5,450.5 129.5,450.5" fill="#008000" stroke="#000" stroke-width="1" stroke-linejoin="miter"/>
<polygon points="170.5,454.5 175.5,459.5 172.5,459.5 172.5,474.5 168.5,474.5 168.5,459.5 165.5,459.5" fill="#008000" stroke="#000" stroke-width="1" stroke-linejoin="miter"/>
<polygon points="182.5,481.5 187.5,486.5 184.5,486.5 184.5,501.5 180.5,501.5 180.5,486.5 177.5,486.5" fill="#008000" stroke="#000" stroke-width="1" stroke-linejoin="miter"/>
<polygon points="440.5,680.5 445.5,685.5 442.5,685.5 442.5,700.5 438.5,700.5 438.5,685.5 435.5,685.5" fill="#008000" stroke="#000" stroke-width="1" stroke-linejoin="miter"/>
<polygon points="452.5,636.5 457.5,641.5 454.5,641.5 454.5,656.5 450.5,656.5 450.5,641.5 447.5,641.5" fill="#008000" stroke="#000" stroke-width="1" stroke-linejoin="miter"/>
<polygon points="464.5,654.5 469.5,659.5 466.5,659.5 466.5,674.5 462.5,674.5 462.5,659.5 459.5,659.5" fill="#008000" stroke="#000" stroke-width="1" stroke-linejoin="miter"/>
<polygon points="512.5,752.5 517.5,757.5 514.5,757.5 514.5,772.5 510.5,772.5 510.5,757.5 507.5,757.5" fill="#008000" stroke="#000" stroke-width="1" stroke-linejoin="miter"/>
<polygon points="1100.5,869.5 1105.5,874.5 1102.5,874.5 1102.5,889.5 1098.5,889.5 1098.5,874.5 1095.5,874.5" fill="#008000" stroke="#000" stroke-width="1" stroke-linejoin="miter"/>
<polygon points="1424.5,562.5 1429.5,557.5 1426.5,557.5 1426.5,542.5 1422.5,542.5 1422.5,557.5 1419.5,557.5" fill="#ff4500" stroke="#000" stroke-width="1" stroke-linejoin="miter"/>
<polygon points="1442.5,562.5 1447.5,557.5 1444.5,557.5 1444.5,542.5 1440.5,542.5 1440.5,557.5 1437.5,557.5" fill="#ff4500" stroke="#000" stroke-width="1" stroke-linejoin="miter"/>
<g shape-rendering="crispEdges">
<rect x="7" y="963" width="2" height="67" fill="#0000ff"/>
<rect x="7" y="1056" width="2" height="21" fill="#008000"/>
<rect x="7" y="1077" width="2" height="14" fill="#ff4500"/>
<rect x="13" y="964" width="2" height="66" fill="#0000ff"/>
<rect x="13" y="1055" width="2" height="22" fill="#008000"/>
<rect x="13" y="1077" width="2" height="13" fill="#ff4500"/>
<rect x="19" y="966" width="2" height="64" fill="#0000ff"/>
<rect x="19" y="1057" width="2" height="20" fill="#008000"/>
<rect x="19" y="1077" width="2" height="14" fill="#ff4500"/>
<rect x="25" y="967" width="2" height="63" fill="#0000ff"/>
<rect x="25" y="1056" width="2" height="21" fill="#008000"/>
<rect x="25" y="1077" width="2" height="13" fill="#ff4500"/>
<rect x="31" y="969" width="2" height="61" fill="#0000ff"/>
<rect x="31" y="1056" width="2" height="21" fill="#008000"/>
<rect x="31" y="1077" width="2" height="11" fill="#ff4500"/>
<rect x="37" y="970" width="2" height="60" fill="#0000ff"/>
<rect x="37" y="1056" width="2" height="21" fill="#008000"/>
<rect x="37" y="1077" width="2" height="11" fill="#ff4500"/>
<rect x="43" y="972" width="2" height="58" fill="#0000ff"/>
<rect x="43" y="1057" width="2" height="20" fill="#008000"/>
<rect x="43" y="1077" width="2" height="11" fill="#ff4500"/>
<rect x="49" y="974" width="2" height="56" fill="#0000ff"/>
<rect x="49" y="1057" width="2" height="20" fill="#008000"/>
<rect x="49" y="1077" width="2" height="10" fill="#ff4500"/>
<rect x="55" y="976" width="2" height="54" fill="#0000ff"/>
<rect x="55" y="1061" width="2" height="16" fill="#008000"/>
<rect x="55" y="1077" width="2" height="13" fill="#ff4500"/>
<rect x="61" y="977" width="2" height="53" fill="#0000ff"/>
<rect x="61" y="1066" width="2" height="11" fill="#008000"/>
<rect x="61" y="1077" width="2" height="15" fill="#ff4500"/>
<rect x="67" y="980" width="2" height="50" fill="#0000ff"/>
<rect x="67" y="1067" width="2" height="10" fill="#008000"/>
<rect x="67" y="1077" width="2" height="17" fill="#ff4500"/>
<rect x="73" y="981" width="2" height="49" fill="#0000ff"/>
<rect x="73" y="1067" width="2" height="10" fill="#008000"/>
<rect x="73" y="1077" width="2" height="16" fill="#ff4500"/>
<rect x="79" y="981" width="2" height="49" fill="#0000ff"/>
<rect x="79" y="1071" width="2" height="6" fill="#008000"/>
<rect x="79" y="1077" width="2" height="20" fill="#ff4500"/>
<rect x="85" y="982" width="2" height="48" fill="#0000ff"/>
<rect x="85" y="1074" width="2" height="3" fill="#008000"/>
<rect x="85" y="1077" width="2" height="22" fill="#ff4500"/>
<rect x="91" y="982" width="2" height="48" fill="#0000ff"/>
<rect x="91" y="1075" width="2" height="2" fill="#008000"/>
<rect x="91" y="1077" width="2" height="23" fill="#ff4500"/>
<rect x="97" y="983" width="2" height="47" fill="#0000ff"/>
<rect x="97" y="1074" width="2" height="3" fill="#008000"/>
<rect x="97" y="1077" width="2" height="22" fill="#ff4500"/>
<rect x="103" y="983" width="2" height="47" fill="#0000ff"/>
<rect x="103" y="1075" width="2" height="2" fill="#008000"/>
<rect x="103" y="1077" width="2" height="23" fill="#ff4500"/>
<rect x="109" y="983" width="2" height="47" fill="#0000ff"/>
<rect x="109" y="1075" width="2" height="2" fill="#008000"/>
<rect x="109" y="1077" width="2" height="23" fill="#ff4500"/>
<rect x="115" y="983" width="2" height="47" fill="#0000ff"/>
<rect x="115" y="1074" width="2" height="3" fill="#008000"/>
<rect x="115" y="1077" width="2" height="22" fill="#ff4500"/>
<rect x="121" y="982" width="2" height="48" fill="#0000ff"/>
<rect x="121" y="1075" width="2" height="2" fill="#008000"/>
<rect x="121" y="1077" width="2" height="23" fill="#ff4500"/>
<rect x="127" y="981" width="2" height="49" fill="#0000ff"/>
<rect x="127" y="1077" width="2" height="28" fill="#ff4500"/>
<rect x="133" y="980" width="2" height="50" fill="#0000ff"/>
<rect x="133" y="1076" width="2" height="1" fill="#008000"/>
<rect x="133" y="1077" width="2" height="25" fill="#ff4500"/>
<rect x="139" y="979" width="2" height="51" fill="#0000ff"/>
<rect x="139" y="1074" width="2" height="3" fill="#008000"/>
<rect x="139" y="1077" width="2" height="24" fill="#ff4500"/>
<rect x="145" y="979" width="2" height="51" fill="#0000ff"/>
<rect x="145" y="1072" width="2" height="5" fill="#008000"/>
<rect x="145" y="1077" width="2" height="22" fill="#ff4500"/>
<rect x="151" y="978" width="2" height="52" fill="#0000ff"/>
<rect x="151" y="1072" width="2" height="5" fill="#008000"/>
<rect x="151" y="1077" width="2" height="22" fill="#ff4500"/>
<rect x="157" y="977" width="2" height="53" fill="#0000ff"/>
<rect x="157" y="1073" width="2" height="4" fill="#008000"/>
<rect x="157" y="1077" width="2" height="24" fill="#ff4500"/>
<rect x="163" y="975" width="2" height="55" fill="#0000ff"/>
<rect x="163" y="1077" width="2" height="29" fill="#ff4500"/>
<rect x="169" y="973" width="2" height="57" fill="#0000ff"/>
<rect x="169" y="1076" width="2" height="1" fill="#008000"/>
<rect x="169" y="1077" width="2" height="29" fill="#ff4500"/>
<rect x="175" y="971" width="2" height="59" fill="#0000ff"/>
<rect x="175" y="1077" width="2" height="32" fill="#ff4500"/>
<rect x="181" y="971" width="2" height="59" fill="#0000ff"/>
<rect x="181" y="1076" width="2" height="1" fill="#008000"/>
<rect x="181" y="1077" width="2" height="30" fill="#ff4500"/>
<rect x="187" y="971" width="2" height="59" fill="#0000ff"/>
<rect x="187" y="1076" width="2" height="1" fill="#008000"/>
<rect x="187" y="1077" width="2" height="30" fill="#ff4500"/>
<rect x="193" y="971" width="2" height="59" fill="#0000ff"/>
<rect x="193" y="1074" width="2" height="3" fill="#008000"/>
<rect x="193" y="1077" width="2" height="29" fill="#ff4500"/>
<rect x="199" y="971" width="2" height="59" fill="#0000ff"/>
<rect x="199" y="1072" width="2" height="5" fill="#008000"/>
<rect x="199" y="1077" width="2" height="27" fill="#ff4500"/>
<rect x="205" y="971" width="2" height="59" fill="#0000ff"/>
<rect x="205" y="1074" width="2" height="3" fill="#008000"/>
<rect x="205" y="1077" width="2" height="28" fill="#ff4500"/>
<rect x="211" y="972" width="2" height="58" fill="#0000ff"/>
<rect x="211" y="1073" width="2" height="4" fill="#008000"/>
<rect x="211" y="1077" width="2" height="26" fill="#ff4500"/>
<rect x="217" y="973" width="2" height="57" fill="#0000ff"/>
<rect x="217" y="1072" width="2" height="5" fill="#008000"/>
<rect x="217" y="1077" width="2" height="25" fill="#ff4500"/>
<rect x="223" y="973" width="2" height="57" fill="#0000ff"/>
<rect x="223" y="1074" width="2" height="3" fill="#008000"/>
<rect x="223" y="1077" width="2" height="27" fill="#ff4500"/>
<rect x="229" y="972" width="2" height="58" fill="#0000ff"/>
<rect x="229" y="1074" width="2" height="3" fill="#008000"/>
<rect x="229" y="1077" width="2" height="28" fill="#ff4500"/>
<rect x="235" y="971" width="2" height="59" fill="#0000ff"/>
<rect x="235" y="1075" width="2" height="2" fill="#008000"/>
<rect x="235" y="1077" width="2" height="29" fill="#ff4500"/>
<rect x="241" y="971" width="2" height="59" fill="#0000ff"/>
<rect x="241" y="1072" width="2" height="5" fill="#008000"/>
<rect x="241" y="1077" width="2" height="27" fill="#ff4500"/>
<rect x="247" y="972" width="2" height="58" fill="#0000ff"/>
<rect x="247" y="1070" width="2" height="7" fill="#008000"/>
<rect x="247" y="1077" width="2" height="24" fill="#ff4500"/>
<rect x="253" y="973" width="2" height="57" fill="#0000ff"/>
<rect x="253" y="1069" width="2" height="8" fill="#008000"/>
<rect x="253" y="1077" width="2" height="22" fill="#ff4500"/>
<rect x="259" y="974" width="2" height="56" fill="#0000ff"/>
<rect x="259" y="1072" width="2" height="5" fill="#008000"/>
<rect x="259" y="1077" width="2" height="24" fill="#ff4500"/>
<rect x="265" y="974" width="2" height="56" fill="#0000ff"/>
<rect x="265" y="1071" width="2" height="6" fill="#008000"/>
<rect x="265" y="1077" width="2" height="24" fill="#ff4500"/>
<rect x="271" y="974" width="2" height="56" fill="#0000ff"/>
<rect x="271" y="1070" width="2" height="7" fill="#008000"/>
<rect x="271" y="1077" width="2" height="23" fill="#ff4500"/>
<rect x="277" y="974" width="2" height="56" fill="#0000ff"/>
<rect x="277" y="1072" width="2" height="5" fill="#008000"/>
<rect x="277" y="1077" width="2" height="25" fill="#ff4500"/>
<rect x="283" y="975" width="2" height="55" fill="#0000ff"/>
<rect x="283" y="1072" width="2" height="5" fill="#008000"/>
<rect x="283" y="1077" width="2" height="24" fill="#ff4500"/>
<rect x="289" y="975" width="2" height="55" fill="#0000ff"/>
<rect x="289" y="1073" width="2" height="4" fill="#008000"/>
<rect x="289" y="1077" width="2" height="24" fill="#ff4500"/>
<rect x="295" y="976" width="2" height="54" fill="#0000ff"/>
<rect x="295" y="1071" width="2" height="6" fill="#008000"/>
<rect x="295" y="1077" width="2" height="23" fill="#ff4500"/>
<rect x="301" y="975" width="2" height="55" fill="#0000ff"/>
<rect x="301" y="1073" width="2" height="4" fill="#008000"/>
<rect x="301" y="1077" width="2" height="24" fill="#ff4500"/>
<rect x="307" y="976" width="2" height="54" fill="#0000ff"/>
<rect x="307" y="1068" width="2" height="9" fill="#008000"/>
<rect x="307" y="1077" width="2" height="20" fill="#ff4500"/>
<rect x="313" y="977" width="2" height="53" fill="#0000ff"/>
<rect x="313" y="1070" width="2" height="7" fill="#008000"/>
<rect x="313" y="1077" width="2" height="21" fill="#ff4500"/>
<rect x="319" y="979" width="2" height="51" fill="#0000ff"/>
<rect x="319" y="1068" width="2" height="9" fill="#008000"/>
<rect x="319" y="1077" width="2" height="19" fill="#ff4500"/>
<rect x="325" y="979" width="2" height="51" fill="#0000ff"/>
<rect x="325" y="1074" width="2" height="3" fill="#008000"/>
<rect x="325" y="1077" width="2" height="24" fill="#ff4500"/>
<rect x="331" y="981" width="2" height="49" fill="#0000ff"/>
<rect x="331" y="1072" width="2" height="5" fill="#008000"/>
<rect x="331" y="1077" width="2" height="21" fill="#ff4500"/>
<rect x="337" y="984" width="2" height="46" fill="#0000ff"/>
<rect x="337" y="1071" width="2" height="6" fill="#008000"/>
<rect x="337" y="1077" width="2" height="19" fill="#ff4500"/>
<rect x="343" y="987" width="2" height="43" fill="#0000ff"/>
<rect x="343" y="1071" width="2" height="6" fill="#008000"/>
<rect x="343" y="1077" width="2" height="17" fill="#ff4500"/>
<rect x="349" y="991" width="2" height="39" fill="#0000ff"/>
<rect x="349" y="1069" width="2" height="8" fill="#008000"/>
<rect x="349" y="1077" width="2" height="13" fill="#ff4500"/>
<rect x="355" y="994" width="2" height="36" fill="#0000ff"/>
<rect x="355" y="1073" width="2" height="4" fill="#008000"/>
<rect x="355" y="1077" width="2" height="15" fill="#ff4500"/>
<rect x="361" y="996" width="2" height="34" fill="#0000ff"/>
<rect x="361" y="1072" width="2" height="5" fill="#008000"/>
<rect x="361" y="1077" width="2" height="13" fill="#ff4500"/>
<rect x="367" y="997" width="2" height="33" fill="#0000ff"/>
<rect x="367" y="1073" width="2" height="4" fill="#008000"/>
<rect x="367" y="1077" width="2" height="13" fill="#ff4500"/>
<rect x="373" y="999" width="2" height="31" fill="#0000ff"/>
<rect x="373" y="1075" width="2" height="2" fill="#008000"/>
<rect x="373" y="1077" width="2" height="14" fill="#ff4500"/>
<rect x="379" y="1001" width="2" height="29" fill="#0000ff"/>
<rect x="379" y="1065" width="2" height="12" fill="#008000"/>
<rect x="379" y="1077" width="2" height="2" fill="#ff4500"/>
<rect x="385" y="1001" width="2" height="29" fill="#0000ff"/>
<rect x="385" y="1069" width="2" height="8" fill="#008000"/>
<rect x="385" y="1077" width="2" height="7" fill="#ff4500"/>
<rect x="391" y="1002" width="2" height="28" fill="#0000ff"/>
<rect x="391" y="1074" width="2" height="3" fill="#008000"/>
<rect x="391" y="1077" width="2" height="12" fill="#ff4500"/>
<rect x="397" y="1002" width="2" height="28" fill="#0000ff"/>
<rect x="397" y="1074" width="2" height="3" fill="#008000"/>
<rect x="397" y="1077" width="2" height="12" fill="#ff4500"/>
<rect x="403" y="1002" width="2" height="28" fill="#0000ff"/>
<rect x="403" y="1075" width="2" height="2" fill="#008000"/>
<rect x="403" y="1077" width="2" height="12" fill="#ff4500"/>
<rect x="409" y="1000" width="2" height="30" fill="#0000ff"/>
<rect x="409" y="1077" width="2" height="21" fill="#ff4500"/>
<rect x="415" y="998" width="2" height="32" fill="#0000ff"/>
<rect x="415" y="1077" width="2" height="22" fill="#ff4500"/>
<rect x="421" y="995" width="2" height="35" fill="#0000ff"/>
<rect x="421" y="1077" width="2" height="23" fill="#ff4500"/>
<rect x="427" y="993" width="2" height="37" fill="#0000ff"/>
<rect x="427" y="1077" width="2" height="23" fill="#ff4500"/>
<rect x="433" y="990" width="2" height="40" fill="#0000ff"/>
<rect x="433" y="1077" width="2" height="26" fill="#ff4500"/>
<rect x="439" y="990" width="2" height="40" fill="#0000ff"/>
<rect x="439" y="1076" width="2" height="1" fill="#008000"/>
<rect x="439" y="1077" width="2" height="20" fill="#ff4500"/>
<rect x="445" y="990" width="2" height="40" fill="#0000ff"/>
<rect x="445" y="1077" width="2" height="21" fill="#ff4500"/>
<rect x="451" y="990" width="2" height="40" fill="#0000ff"/>
<rect x="451" y="1075" width="2" height="2" fill="#008000"/>
<rect x="451" y="1077" width="2" height="19" fill="#ff4500"/>
<rect x="457" y="989" width="2" height="41" fill="#0000ff"/>
<rect x="457" y="1077" width="2" height="23" fill="#ff4500"/>
<rect x="463" y="988" width="2" height="42" fill="#0000ff"/>
<rect x="463" y="1076" width="2" height="1" fill="#008000"/>
<rect x="463" y="1077" width="2" height="21" fill="#ff4500"/>
<rect x="469" y="987" width="2" height="43" fill="#0000ff"/>
<rect x="469" y="1077" width="2" height="24" fill="#ff4500"/>
<rect x="475" y="982" width="2" height="48" fill="#0000ff"/>
<rect x="475" y="1077" width="2" height="33" fill="#ff4500"/>
<rect x="481" y="978" width="2" height="52" fill="#0000ff"/>
<rect x="481" y="1077" width="2" height="33" fill="#ff4500"/>
<rect x="487" y="974" width="2" height="56" fill="#0000ff"/>
<rect x="487" y="1077" width="2" height="35" fill="#ff4500"/>
<rect x="493" y="970" width="2" height="60" fill="#0000ff"/>
<rect x="493" y="1077" width="2" height="40" fill="#ff4500"/>
<rect x="499" y="968" width="2" height="62" fill="#0000ff"/>
<rect x="499" y="1077" width="2" height="34" fill="#ff4500"/>
<rect x="505" y="965" width="2" height="65" fill="#0000ff"/>
<rect x="505" y="1077" width="2" height="35" fill="#ff4500"/>
<rect x="511" y="965" width="2" height="65" fill="#0000ff"/>
<rect x="511" y="1074" width="2" height="3" fill="#008000"/>
<rect x="511" y="1077" width="2" height="31" fill="#ff4500"/>
<rect x="517" y="964" width="2" height="66" fill="#0000ff"/>
<rect x="517" y="1070" width="2" height="7" fill="#008000"/>
<rect x="517" y="1077" width="2" height="27" fill="#ff4500"/>
<rect x="523" y="964" width="2" height="66" fill="#0000ff"/>
<rect x="523" y="1071" width="2" height="6" fill="#008000"/>
<rect x="523" y="1077" width="2" height="29" fill="#ff4500"/>
<rect x="529" y="963" width="2" height="67" fill="#0000ff"/>
<rect x="529" y="1072" width="2" height="5" fill="#008000"/>
<rect x="529" y="1077" width="2" height="30" fill="#ff4500"/>
<rect x="535" y="962" width="2" height="68" fill="#0000ff"/>
<rect x="535" y="1073" width="2" height="4" fill="#008000"/>
<rect x="535" y="1077" width="2" height="32" fill="#ff4500"/>
<rect x="541" y="961" width="2" height="69" fill="#0000ff"/>
<rect x="541" y="1071" width="2" height="6" fill="#008000"/>
<rect x="541" y="1077" width="2" height="31" fill="#ff4500"/>
<rect x="547" y="960" width="2" height="70" fill="#0000ff"/>
<rect x="547" y="1072" width="2" height="5" fill="#008000"/>
<rect x="547" y="1077" width="2" height="31" fill="#ff4500"/>
<rect x="553" y="961" width="2" height="69" fill="#0000ff"/>
<rect x="553" y="1068" width="2" height="9" fill="#008000"/>
<rect x="553" y="1077" width="2" height="27" fill="#ff4500"/>
<rect x="559" y="961" width="2" height="69" fill="#0000ff"/>
<rect x="559" y="1068" width="2" height="9" fill="#008000"/>
<rect x="559" y="1077" width="2" height="28" fill="#ff4500"/>
<rect x="565" y="960" width="2" height="70" fill="#0000ff"/>
<rect x="565" y="1074" width="2" height="3" fill="#008000"/>
<rect x="565" y="1077" width="2" height="34" fill="#ff4500"/>
<rect x="571" y="959" width="2" height="71" fill="#0000ff"/>
<rect x="571" y="1073" width="2" height="4" fill="#008000"/>
<rect x="571" y="1077" width="2" height="33" fill="#ff4500"/>
<rect x="577" y="960" width="2" height="70" fill="#0000ff"/>
<rect x="577" y="1066" width="2" height="11" fill="#008000"/>
<rect x="577" y="1077" width="2" height="26" fill="#ff4500"/>
<rect x="583" y="960" width="2" height="70" fill="#0000ff"/>
<rect x="583" y="1063" width="2" height="14" fill="#008000"/>
<rect x="583" y="1077" width="2" height="23" fill="#ff4500"/>
<rect x="589" y="961" width="2" height="69" fill="#0000ff"/>
<rect x="589" y="1065" width="2" height="12" fill="#008000"/>
<rect x="589" y="1077" width="2" height="24" fill="#ff4500"/>
<rect x="595" y="961" width="2" height="69" fill="#0000ff"/>
<rect x="595" y="1064" width="2" height="13" fill="#008000"/>
<rect x="595" y="1077" width="2" height="24" fill="#ff4500"/>
<rect x="601" y="962" width="2" height="68" fill="#0000ff"/>
<rect x="601" y="1066" width="2" height="11" fill="#008000"/>
<rect x="601" y="1077" width="2" height="24" fill="#ff4500"/>
<rect x="607" y="963" width="2" height="67" fill="#0000ff"/>
<rect x="607" y="1067" width="2" height="10" fill="#008000"/>
<rect x="607" y="1077" width="2" height="25" fill="#ff4500"/>
<rect x="613" y="964" width="2" height="66" fill="#0000ff"/>
<rect x="613" y="1065" width="2" height="12" fill="#008000"/>
<rect x="613" y="1077" width="2" height="23" fill="#ff4500"/>
<rect x="619" y="966" width="2" height="64" fill="#0000ff"/>
<rect x="619" y="1058" width="2" height="19" fill="#008000"/>
<rect x="619" y="1077" width="2" height="15" fill="#ff4500"/>
<rect x="625" y="966" width="2" height="64" fill="#0000ff"/>
<rect x="625" y="1055" width="2" height="22" fill="#008000"/>
<rect x="625" y="1077" width="2" height="11" fill="#ff4500"/>
<rect x="631" y="967" width="2" height="63" fill="#0000ff"/>
<rect x="631" y="1053" width="2" height="24" fill="#008000"/>
<rect x="631" y="1077" width="2" height="9" fill="#ff4500"/>
<rect x="637" y="968" width="2" height="62" fill="#0000ff"/>
<rect x="637" y="1058" width="2" height="19" fill="#008000"/>
<rect x="637" y="1077" width="2" height="14" fill="#ff4500"/>
<rect x="643" y="968" width="2" height="62" fill="#0000ff"/>
<rect x="643" y="1048" width="2" height="29" fill="#008000"/>
<rect x="643" y="1077" width="2" height="4" fill="#ff4500"/>
<rect x="649" y="970" width="2" height="60" fill="#0000ff"/>
<rect x="649" y="1055" width="2" height="22" fill="#008000"/>
<rect x="649" y="1077" width="2" height="10" fill="#ff4500"/>
<rect x="655" y="971" width="2" height="59" fill="#0000ff"/>
<rect x="655" y="1054" width="2" height="23" fill="#008000"/>
<rect x="655" y="1077" width="2" height="8" fill="#ff4500"/>
<rect x="661" y="972" width="2" height="58" fill="#0000ff"/>
<rect x="661" y="1056" width="2" height="21" fill="#008000"/>
<rect x="661" y="1077" width="2" height="10" fill="#ff4500"/>
<rect x="667" y="974" width="2" height="56" fill="#0000ff"/>
<rect x="667" y="1057" width="2" height="20" fill="#008000"/>
<rect x="667" y="1077" width="2" height="9" fill="#ff4500"/>
<rect x="673" y="975" width="2" height="55" fill="#0000ff"/>
<rect x="673" y="1058" width="2" height="19" fill="#008000"/>
<rect x="673" y="1077" width="2" height="10" fill="#ff4500"/>
<rect x="679" y="979" width="2" height="51" fill="#0000ff"/>
<rect x="679" y="1058" width="2" height="19" fill="#008000"/>
<rect x="679" y="1077" width="2" height="8" fill="#ff4500"/>
<rect x="685" y="981" width="2" height="49" fill="#0000ff"/>
<rect x="685" y="1054" width="2" height="23" fill="#008000"/>
<rect x="685" y="1077" width="2" height="3" fill="#ff4500"/>
<rect x="691" y="983" width="2" height="47" fill="#0000ff"/>
<rect x="691" y="1067" width="2" height="10" fill="#008000"/>
<rect x="691" y="1077" width="2" height="15" fill="#ff4500"/>
<rect x="697" y="984" width="2" height="46" fill="#0000ff"/>
<rect x="697" y="1069" width="2" height="8" fill="#008000"/>
<rect x="697" y="1077" width="2" height="16" fill="#ff4500"/>
<rect x="703" y="986" width="2" height="44" fill="#0000ff"/>
<rect x="703" y="1072" width="2" height="5" fill="#008000"/>
<rect x="703" y="1077" width="2" height="18" fill="#ff4500"/>
<rect x="709" y="986" width="2" height="44" fill="#0000ff"/>
<rect x="709" y="1066" width="2" height="11" fill="#008000"/>
<rect x="709" y="1077" width="2" height="12" fill="#ff4500"/>
<rect x="715" y="986" width="2" height="44" fill="#0000ff"/>
<rect x="715" y="1065" width="2" height="12" fill="#008000"/>
<rect x="715" y="1077" width="2" height="11" fill="#ff4500"/>
<rect x="721" y="986" width="2" height="44" fill="#0000ff"/>
<rect x="721" y="1066" width="2" height="11" fill="#008000"/>
<rect x="721" y="1077" width="2" height="12" fill="#ff4500"/>
<rect x="727" y="986" width="2" height="44" fill="#0000ff"/>
<rect x="727" y="1066" width="2" height="11" fill="#008000"/>
<rect x="727" y="1077" width="2" height="13" fill="#ff4500"/>
<rect x="733" y="986" width="2" height="44" fill="#0000ff"/>
<rect x="733" y="1066" width="2" height="11" fill="#008000"/>
<rect x="733" y="1077" width="2" height="13" fill="#ff4500"/>
<rect x="739" y="985" width="2" height="45" fill="#0000ff"/>
<rect x="739" y="1075" width="2" height="2" fill="#008000"/>
<rect x="739" y="1077" width="2" height="22" fill="#ff4500"/>
<rect x="745" y="986" width="2" height="44" fill="#0000ff"/>
<rect x="745" y="1062" width="2" height="15" fill="#008000"/>
<rect x="745" y="1077" width="2" height="8" fill="#ff4500"/>
<rect x="751" y="986" width="2" height="44" fill="#0000ff"/>
<rect x="751" y="1065" width="2" height="12" fill="#008000"/>
<rect x="751" y="1077" width="2" height="11" fill="#ff4500"/>
<rect x="757" y="986" width="2" height="44" fill="#0000ff"/>
<rect x="757" y="1060" width="2" height="17" fill="#008000"/>
<rect x="757" y="1077" width="2" height="6" fill="#ff4500"/>
<rect x="763" y="986" width="2" height="44" fill="#0000ff"/>
<rect x="763" y="1065" width="2" height="12" fill="#008000"/>
<rect x="763" y="1077" width="2" height="11" fill="#ff4500"/>
<rect x="769" y="986" width="2" height="44" fill="#0000ff"/>
<rect x="769" y="1071" width="2" height="6" fill="#008000"/>
<rect x="769" y="1077" width="2" height="17" fill="#ff4500"/>
<rect x="775" y="985" width="2" height="45" fill="#0000ff"/>
<rect x="775" y="1074" width="2" height="3" fill="#008000"/>
<rect x="775" y="1077" width="2" height="20" fill="#ff4500"/>
<rect x="781" y="985" width="2" height="45" fill="#0000ff"/>
<rect x="781" y="1069" width="2" height="8" fill="#008000"/>
<rect x="781" y="1077" width="2" height="15" fill="#ff4500"/>
<rect x="787" y="986" width="2" height="44" fill="#0000ff"/>
<rect x="787" y="1068" width="2" height="9" fill="#008000"/>
<rect x="787" y="1077" width="2" height="14" fill="#ff4500"/>
<rect x="793" y="987" width="2" height="43" fill="#0000ff"/>
<rect x="793" y="1061" width="2" height="16" fill="#008000"/>
<rect x="793" y="1077" width="2" height="6" fill="#ff4500"/>
<rect x="799" y="988" width="2" height="42" fill="#0000ff"/>
<rect x="799" y="1061" width="2" height="16" fill="#008000"/>
<rect x="799" y="1077" width="2" height="6" fill="#ff4500"/>
<rect x="805" y="988" width="2" height="42" fill="#0000ff"/>
<rect x="805" y="1070" width="2" height="7" fill="#008000"/>
<rect x="805" y="1077" width="2" height="15" fill="#ff4500"/>
<rect x="811" y="988" width="2" height="42" fill="#0000ff"/>
<rect x="811" y="1070" width="2" height="7" fill="#008000"/>
<rect x="811" y="1077" width="2" height="15" fill="#ff4500"/>
<rect x="817" y="987" width="2" height="43" fill="#0000ff"/>
<rect x="817" y="1072" width="2" height="5" fill="#008000"/>
<rect x="817" y="1077" width="2" height="17" fill="#ff4500"/>
<rect x="823" y="987" width="2" height="43" fill="#0000ff"/>
<rect x="823" y="1072" width="2" height="5" fill="#008000"/>
<rect x="823" y="1077" width="2" height="18" fill="#ff4500"/>
<rect x="829" y="986" width="2" height="44" fill="#0000ff"/>
<rect x="829" y="1073" width="2" height="4" fill="#008000"/>
<rect x="829" y="1077" width="2" height="19" fill="#ff4500"/>
<rect x="835" y="986" width="2" height="44" fill="#0000ff"/>
<rect x="835" y="1070" width="2" height="7" fill="#008000"/>
<rect x="835" y="1077" width="2" height="16" fill="#ff4500"/>
<rect x="841" y="986" width="2" height="44" fill="#0000ff"/>
<rect x="841" y="1075" width="2" height="2" fill="#008000"/>
<rect x="841" y="1077" width="2" height="20" fill="#ff4500"/>
<rect x="847" y="986" width="2" height="44" fill="#0000ff"/>
<rect x="847" y="1071" width="2" height="6" fill="#008000"/>
<rect x="847" y="1077" width="2" height="17" fill="#ff4500"/>
<rect x="853" y="985" width="2" height="45" fill="#0000ff"/>
<rect x="853" y="1072" width="2" height="5" fill="#008000"/>
<rect x="853" y="1077" width="2" height="17" fill="#ff4500"/>
<rect x="859" y="985" width="2" height="45" fill="#0000ff"/>
<rect x="859" y="1071" width="2" height="6" fill="#008000"/>
<rect x="859" y="1077" width="2" height="16" fill="#ff4500"/>
<rect x="865" y="986" width="2" height="44" fill="#0000ff"/>
<rect x="865" y="1069" width="2" height="8" fill="#008000"/>
<rect x="865" y="1077" width="2" height="15" fill="#ff4500"/>
<rect x="871" y="986" width="2" height="44" fill="#0000ff"/>
<rect x="871" y="1070" width="2" height="7" fill="#008000"/>
<rect x="871" y="1077" width="2" height="15" fill="#ff4500"/>
<rect x="877" y="986" width="2" height="44" fill="#0000ff"/>
<rect x="877" y="1069" width="2" height="8" fill="#008000"/>
<rect x="877" y="1077" width="2" height="14" fill="#ff4500"/>
<rect x="883" y="986" width="2" height="44" fill="#0000ff"/>
<rect x="883" y="1068" width="2" height="9" fill="#008000"/>
<rect x="883" y="1077" width="2" height="14" fill="#ff4500"/>
<rect x="889" y="986" width="2" height="44" fill="#0000ff"/>
<rect x="889" y="1066" width="2" height="11" fill="#008000"/>
<rect x="889" y="1077" width="2" height="12" fill="#ff4500"/>
<rect x="895" y="986" width="2" height="44" fill="#0000ff"/>
<rect x="895" y="1067" width="2" height="10" fill="#008000"/>
<rect x="895" y="1077" width="2" height="13" fill="#ff4500"/>
<rect x="901" y="986" width="2" height="44" fill="#0000ff"/>
<rect x="901" y="1068" width="2" height="9" fill="#008000"/>
<rect x="901" y="1077" width="2" height="15" fill="#ff4500"/>
<rect x="907" y="986" width="2" height="44" fill="#0000ff"/>
<rect x="907" y="1069" width="2" height="8" fill="#008000"/>
<rect x="907" y="1077" width="2" height="15" fill="#ff4500"/>
<rect x="913" y="986" width="2" height="44" fill="#0000ff"/>
<rect x="913" y="1067" width="2" height="10" fill="#008000"/>
<rect x="913" y="1077" width="2" height="13" fill="#ff4500"/>
<rect x="919" y="986" width="2" height="44" fill="#0000ff"/>
<rect x="919" y="1069" width="2" height="8" fill="#008000"/>
<rect x="919" y="1077" width="2" height="15" fill="#ff4500"/>
<rect x="925" y="987" width="2" height="43" fill="#0000ff"/>
<rect x="925" y="1069" width="2" height="8" fill="#008000"/>
<rect x="925" y="1077" width="2" height="15" fill="#ff4500"/>
<rect x="931" y="988" width="2" height="42" fill="#0000ff"/>
<rect x="931" y="1067" width="2" height="10" fill="#008000"/>
<rect x="931" y="1077" width="2" height="12" fill="#ff4500"/>
<rect x="937" y="988" width="2" height="42" fill="#0000ff"/>
<rect x="937" y="1067" width="2" height="10" fill="#008000"/>
<rect x="937" y="1077" width="2" height="11" fill="#ff4500"/>
<rect x="943" y="992" width="2" height="38" fill="#0000ff"/>
<rect x="943" y="1066" width="2" height="11" fill="#008000"/>
<rect x="943" y="1077" width="2" height="9" fill="#ff4500"/>
<rect x="949" y="993" width="2" height="37" fill="#0000ff"/>
<rect x="949" y="1067" width="2" height="10" fill="#008000"/>
<rect x="949" y="1077" width="2" height="9" fill="#ff4500"/>
<rect x="955" y="995" width="2" height="35" fill="#0000ff"/>
<rect x="955" y="1069" width="2" height="8" fill="#008000"/>
<rect x="955" y="1077" width="2" height="10" fill="#ff4500"/>
<rect x="961" y="997" width="2" height="33" fill="#0000ff"/>
<rect x="961" y="1069" width="2" height="8" fill="#008000"/>
<rect x="961" y="1077" width="2" height="9" fill="#ff4500"/>
<rect x="967" y="998" width="2" height="32" fill="#0000ff"/>
<rect x="967" y="1069" width="2" height="8" fill="#008000"/>
<rect x="967" y="1077" width="2" height="8" fill="#ff4500"/>
<rect x="973" y="1000" width="2" height="30" fill="#0000ff"/>
<rect x="973" y="1071" width="2" height="6" fill="#008000"/>
<rect x="973" y="1077" width="2" height="9" fill="#ff4500"/>
<rect x="979" y="1001" width="2" height="29" fill="#0000ff"/>
<rect x="979" y="1071" width="2" height="6" fill="#008000"/>
<rect x="979" y="1077" width="2" height="9" fill="#ff4500"/>
<rect x="985" y="1005" width="2" height="25" fill="#0000ff"/>
<rect x="985" y="1074" width="2" height="3" fill="#008000"/>
<rect x="985" y="1077" width="2" height="10" fill="#ff4500"/>
<rect x="991" y="1005" width="2" height="25" fill="#0000ff"/>
<rect x="991" y="1076" width="2" height="1" fill="#008000"/>
<rect x="991" y="1077" width="2" height="12" fill="#ff4500"/>
<rect x="997" y="1004" width="2" height="26" fill="#0000ff"/>
<rect x="997" y="1076" width="2" height="1" fill="#008000"/>
<rect x="997" y="1077" width="2" height="13" fill="#ff4500"/>
<rect x="1003" y="1004" width="2" height="26" fill="#0000ff"/>
<rect x="1003" y="1073" width="2" height="4" fill="#008000"/>
<rect x="1003" y="1077" width="2" height="10" fill="#ff4500"/>
<rect x="1009" y="1004" width="2" height="26" fill="#0000ff"/>
<rect x="1009" y="1075" width="2" height="2" fill="#008000"/>
<rect x="1009" y="1077" width="2" height="12" fill="#ff4500"/>
<rect x="1015" y="1004" width="2" height="26" fill="#0000ff"/>
<rect x="1015" y="1070" width="2" height="7" fill="#008000"/>
<rect x="1015" y="1077" width="2" height="6" fill="#ff4500"/>
<rect x="1021" y="1004" width="2" height="26" fill="#0000ff"/>
<rect x="1021" y="1071" width="2" height="6" fill="#008000"/>
<rect x="1021" y="1077" width="2" height="8" fill="#ff4500"/>
<rect x="1027" y="1004" width="2" height="26" fill="#0000ff"/>
<rect x="1027" y="1073" width="2" height="4" fill="#008000"/>
<rect x="1027" y="1077" width="2" height="9" fill="#ff4500"/>
<rect x="1033" y="1004" width="2" height="26" fill="#0000ff"/>
<rect x="1033" y="1072" width="2" height="5" fill="#008000"/>
<rect x="1033" y="1077" width="2" height="8" fill="#ff4500"/>
<rect x="1039" y="1005" width="2" height="25" fill="#0000ff"/>
<rect x="1039" y="1075" width="2" height="2" fill="#008000"/>
<rect x="1039" y="1077" width="2" height="11" fill="#ff4500"/>
<rect x="1045" y="1005" width="2" height="25" fill="#0000ff"/>
<rect x="1045" y="1075" width="2" height="2" fill="#008000"/>
<rect x="1045" y="1077" width="2" height="11" fill="#ff4500"/>
<rect x="1051" y="1005" width="2" height="25" fill="#0000ff"/>
<rect x="1051" y="1075" width="2" height="2" fill="#008000"/>
<rect x="1051" y="1077" width="2" height="11" fill="#ff4500"/>
<rect x="1057" y="1006" width="2" height="24" fill="#0000ff"/>
<rect x="1057" y="1076" width="2" height="1" fill="#008000"/>
<rect x="1057" y="1077" width="2" height="11" fill="#ff4500"/>
<rect x="1063" y="1006" width="2" height="24" fill="#0000ff"/>
<rect x="1063" y="1075" width="2" height="2" fill="#008000"/>
<rect x="1063" y="1077" width="2" height="10" fill="#ff4500"/>
<rect x="1069" y="1006" width="2" height="24" fill="#0000ff"/>
<rect x="1069" y="1076" width="2" height="1" fill="#008000"/>
<rect x="1069" y="1077" width="2" height="12" fill="#ff4500"/>
<rect x="1075" y="1004" width="2" height="26" fill="#0000ff"/>
<rect x="1075" y="1077" width="2" height="16" fill="#ff4500"/>
<rect x="1081" y="999" width="2" height="31" fill="#0000ff"/>
<rect x="1081" y="1077" width="2" height="24" fill="#ff4500"/>
<rect x="1087" y="996" width="2" height="34" fill="#0000ff"/>
<rect x="1087" y="1077" width="2" height="23" fill="#ff4500"/>
<rect x="1093" y="995" width="2" height="35" fill="#0000ff"/>
<rect x="1093" y="1077" width="2" height="20" fill="#ff4500"/>
<rect x="1099" y="997" width="2" height="33" fill="#0000ff"/>
<rect x="1099" y="1074" width="2" height="3" fill="#008000"/>
<rect x="1099" y="1077" width="2" height="15" fill="#ff4500"/>
<rect x="1105" y="997" width="2" height="33" fill="#0000ff"/>
<rect x="1105" y="1071" width="2" height="6" fill="#008000"/>
<rect x="1105" y="1077" width="2" height="11" fill="#ff4500"/>
<rect x="1111" y="997" width="2" height="33" fill="#0000ff"/>
<rect x="1111" y="1070" width="2" height="7" fill="#008000"/>
<rect x="1111" y="1077" width="2" height="10" fill="#ff4500"/>
<rect x="1117" y="996" width="2" height="34" fill="#0000ff"/>
<rect x="1117" y="1075" width="2" height="2" fill="#008000"/>
<rect x="1117" y="1077" width="2" height="15" fill="#ff4500"/>
<rect x="1123" y="996" width="2" height="34" fill="#0000ff"/>
<rect x="1123" y="1072" width="2" height="5" fill="#008000"/>
<rect x="1123" y="1077" width="2" height="13" fill="#ff4500"/>
<rect x="1129" y="996" width="2" height="34" fill="#0000ff"/>
<rect x="1129" y="1073" width="2" height="4" fill="#008000"/>
<rect x="1129" y="1077" width="2" height="13" fill="#ff4500"/>
<rect x="1135" y="995" width="2" height="35" fill="#0000ff"/>
<rect x="1135" y="1072" width="2" height="5" fill="#008000"/>
<rect x="1135" y="1077" width="2" height="13" fill="#ff4500"/>
<rect x="1141" y="995" width="2" height="35" fill="#0000ff"/>
<rect x="1141" y="1068" width="2" height="9" fill="#008000"/>
<rect x="1141" y="1077" width="2" height="9" fill="#ff4500"/>
<rect x="1147" y="995" width="2" height="35" fill="#0000ff"/>
<rect x="1147" y="1067" width="2" height="10" fill="#008000"/>
<rect x="1147" y="1077" width="2" height="8" fill="#ff4500"/>
<rect x="1153" y="995" width="2" height="35" fill="#0000ff"/>
<rect x="1153" y="1070" width="2" height="7" fill="#008000"/>
<rect x="1153" y="1077" width="2" height="11" fill="#ff4500"/>
<rect x="1159" y="995" width="2" height="35" fill="#0000ff"/>
<rect x="1159" y="1070" width="2" height="7" fill="#008000"/>
<rect x="1159" y="1077" width="2" height="11" fill="#ff4500"/>
<rect x="1165" y="995" width="2" height="35" fill="#0000ff"/>
<rect x="1165" y="1070" width="2" height="7" fill="#008000"/>
<rect x="1165" y="1077" width="2" height="12" fill="#ff4500"/>
<rect x="1171" y="995" width="2" height="35" fill="#0000ff"/>
<rect x="1171" y="1073" width="2" height="4" fill="#008000"/>
<rect x="1171" y="1077" width="2" height="14" fill="#ff4500"/>
<rect x="1177" y="995" width="2" height="35" fill="#0000ff"/>
<rect x="1177" y="1072" width="2" height="5" fill="#008000"/>
<rect x="1177" y="1077" width="2" height="13" fill="#ff4500"/>
<rect x="1183" y="995" width="2" height="35" fill="#0000ff"/>
<rect x="1183" y="1070" width="2" height="7" fill="#008000"/>
<rect x="1183" y="1077" width="2" height="11" fill="#ff4500"/>
<rect x="1189" y="996" width="2" height="34" fill="#0000ff"/>
<rect x="1189" y="1070" width="2" height="7" fill="#008000"/>
<rect x="1189" y="1077" width="2" height="11" fill="#ff4500"/>
<rect x="1195" y="997" width="2" height="33" fill="#0000ff"/>
<rect x="1195" y="1070" width="2" height="7" fill="#008000"/>
<rect x="1195" y="1077" width="2" height="10" fill="#ff4500"/>
<rect x="1201" y="997" width="2" height="33" fill="#0000ff"/>
<rect x="1201" y="1070" width="2" height="7" fill="#008000"/>
<rect x="1201" y="1077" width="2" height="10" fill="#ff4500"/>
<rect x="1207" y="997" width="2" height="33" fill="#0000ff"/>
<rect x="1207" y="1069" width="2" height="8" fill="#008000"/>
<rect x="1207" y="1077" width="2" height="9" fill="#ff4500"/>
<rect x="1213" y="998" width="2" height="32" fill="#0000ff"/>
<rect x="1213" y="1067" width="2" height="10" fill="#008000"/>
<rect x="1213" y="1077" width="2" height="7" fill="#ff4500"/>
<rect x="1219" y="998" width="2" height="32" fill="#0000ff"/>
<rect x="1219" y="1067" width="2" height="10" fill="#008000"/>
<rect x="1219" y="1077" width="2" height="7" fill="#ff4500"/>
<rect x="1225" y="998" width="2" height="32" fill="#0000ff"/>
<rect x="1225" y="1066" width="2" height="11" fill="#008000"/>
<rect x="1225" y="1077" width="2" height="6" fill="#ff4500"/>
<rect x="1231" y="999" width="2" height="31" fill="#0000ff"/>
<rect x="1231" y="1066" width="2" height="11" fill="#008000"/>
<rect x="1231" y="1077" width="2" height="5" fill="#ff4500"/>
<rect x="1237" y="1000" width="2" height="30" fill="#0000ff"/>
<rect x="1237" y="1067" width="2" height="10" fill="#008000"/>
<rect x="1237" y="1077" width="2" height="6" fill="#ff4500"/>
<rect x="1243" y="1001" width="2" height="29" fill="#0000ff"/>
<rect x="1243" y="1066" width="2" height="11" fill="#008000"/>
<rect x="1243" y="1077" width="2" height="4" fill="#ff4500"/>
<rect x="1249" y="1001" width="2" height="29" fill="#0000ff"/>
<rect x="1249" y="1065" width="2" height="12" fill="#008000"/>
<rect x="1249" y="1077" width="2" height="3" fill="#ff4500"/>
<rect x="1255" y="1002" width="2" height="28" fill="#0000ff"/>
<rect x="1255" y="1066" width="2" height="11" fill="#008000"/>
<rect x="1255" y="1077" width="2" height="4" fill="#ff4500"/>
<rect x="1261" y="1002" width="2" height="28" fill="#0000ff"/>
<rect x="1261" y="1065" width="2" height="12" fill="#008000"/>
<rect x="1261" y="1077" width="2" height="3" fill="#ff4500"/>
<rect x="1267" y="1003" width="2" height="27" fill="#0000ff"/>
<rect x="1267" y="1065" width="2" height="12" fill="#008000"/>
<rect x="1267" y="1077" width="2" height="3" fill="#ff4500"/>
<rect x="1273" y="1003" width="2" height="27" fill="#0000ff"/>
<rect x="1273" y="1065" width="2" height="12" fill="#008000"/>
<rect x="1273" y="1077" width="2" height="4" fill="#ff4500"/>
<rect x="1279" y="1003" width="2" height="27" fill="#0000ff"/>
<rect x="1279" y="1067" width="2" height="10" fill="#008000"/>
<rect x="1279" y="1077" width="2" height="4" fill="#ff4500"/>
<rect x="1285" y="1003" width="2" height="27" fill="#0000ff"/>
<rect x="1285" y="1067" width="2" height="10" fill="#008000"/>
<rect x="1285" y="1077" width="2" height="4" fill="#ff4500"/>
<rect x="1291" y="1003" width="2" height="27" fill="#0000ff"/>
<rect x="1291" y="1066" width="2" height="11" fill="#008000"/>
<rect x="1291" y="1077" width="2" height="3" fill="#ff4500"/>
<rect x="1297" y="1003" width="2" height="27" fill="#0000ff"/>
<rect x="1297" y="1067" width="2" height="10" fill="#008000"/>
<rect x="1297" y="1077" width="2" height="4" fill="#ff4500"/>
<rect x="1303" y="1003" width="2" height="27" fill="#0000ff"/>
<rect x="1303" y="1068" width="2" height="9" fill="#008000"/>
<rect x="1303" y="1077" width="2" height="5" fill="#ff4500"/>
<rect x="1309" y="1003" width="2" height="27" fill="#0000ff"/>
<rect x="1309" y="1069" width="2" height="8" fill="#008000"/>
<rect x="1309" y="1077" width="2" height="6" fill="#ff4500"/>
<rect x="1315" y="1004" width="2" height="26" fill="#0000ff"/>
<rect x="1315" y="1069" width="2" height="8" fill="#008000"/>
<rect x="1315" y="1077" width="2" height="6" fill="#ff4500"/>
<rect x="1321" y="1004" width="2" height="26" fill="#0000ff"/>
<rect x="1321" y="1069" width="2" height="8" fill="#008000"/>
<rect x="1321" y="1077" width="2" height="6" fill="#ff4500"/>
<rect x="1327" y="1004" width="2" height="26" fill="#0000ff"/>
<rect x="1327" y="1067" width="2" height="10" fill="#008000"/>
<rect x="1327" y="1077" width="2" height="4" fill="#ff4500"/>
<rect x="1333" y="1004" width="2" height="26" fill="#0000ff"/>
<rect x="1333" y="1067" width="2" height="10" fill="#008000"/>
<rect x="1333" y="1077" width="2" height="4" fill="#ff4500"/>
<rect x="1339" y="1004" width="2" height="26" fill="#0000ff"/>
<rect x="1339" y="1067" width="2" height="10" fill="#008000"/>
<rect x="1339" y="1077" width="2" height="4" fill="#ff4500"/>
<rect x="1345" y="1004" width="2" height="26" fill="#0000ff"/>
<rect x="1345" y="1067" width="2" height="10" fill="#008000"/>
<rect x="1345" y="1077" width="2" height="3" fill="#ff4500"/>
<rect x="1351" y="1003" width="2" height="27" fill="#0000ff"/>
<rect x="1351" y="1065" width="2" height="12" fill="#008000"/>
<rect x="1351" y="1077" width="2" height="2" fill="#ff4500"/>
<rect x="1357" y="1003" width="2" height="27" fill="#0000ff"/>
<rect x="1357" y="1065" width="2" height="12" fill="#008000"/>
<rect x="1357" y="1077" width="2" height="2" fill="#ff4500"/>
<rect x="1363" y="1002" width="2" height="28" fill="#0000ff"/>
<rect x="1363" y="1064" width="2" height="13" fill="#008000"/>
<rect x="1363" y="1077" width="2" height="1" fill="#ff4500"/>
<rect x="1369" y="1002" width="2" height="28" fill="#0000ff"/>
<rect x="1369" y="1064" width="2" height="13" fill="#008000"/>
<rect x="1369" y="1077" width="2" height="2" fill="#ff4500"/>
<rect x="1375" y="1002" width="2" height="28" fill="#0000ff"/>
<rect x="1375" y="1062" width="2" height="15" fill="#008000"/>
<rect x="1381" y="1004" width="2" height="26" fill="#0000ff"/>
<rect x="1381" y="1062" width="2" height="15" fill="#008000"/>
<rect x="1387" y="1005" width="2" height="25" fill="#0000ff"/>
<rect x="1387" y="1061" width="2" height="16" fill="#008000"/>
<rect x="1393" y="1005" width="2" height="25" fill="#0000ff"/>
<rect x="1393" y="1060" width="2" height="17" fill="#008000"/>
<rect x="1399" y="1003" width="2" height="27" fill="#0000ff"/>
<rect x="1399" y="1059" width="2" height="18" fill="#008000"/>
<rect x="1405" y="1001" width="2" height="29" fill="#0000ff"/>
<rect x="1405" y="1059" width="2" height="18" fill="#008000"/>
<rect x="1411" y="1000" width="2" height="30" fill="#0000ff"/>
<rect x="1411" y="1060" width="2" height="17" fill="#008000"/>
<rect x="1417" y="1000" width="2" height="30" fill="#0000ff"/>
<rect x="1417" y="1060" width="2" height="17" fill="#008000"/>
<rect x="1417" y="1077" width="2" height="1" fill="#ff4500"/>
<rect x="1423" y="999" width="2" height="31" fill="#0000ff"/>
<rect x="1423" y="1062" width="2" height="15" fill="#008000"/>
<rect x="1423" y="1077" width="2" height="1" fill="#ff4500"/>
<rect x="1429" y="998" width="2" height="32" fill="#0000ff"/>
<rect x="1429" y="1057" width="2" height="20" fill="#008000"/>
<rect x="1435" y="997" width="2" height="33" fill="#0000ff"/>
<rect x="1435" y="1059" width="2" height="18" fill="#008000"/>
<rect x="1441" y="996" width="2" height="34" fill="#0000ff"/>
<rect x="1441" y="1062" width="2" height="15" fill="#008000"/>
<rect x="1441" y="1077" width="2" height="3" fill="#ff4500"/>
<rect x="1447" y="996" width="2" height="34" fill="#0000ff"/>
<rect x="1447" y="1063" width="2" height="14" fill="#008000"/>
<rect x="1447" y="1077" width="2" height="4" fill="#ff4500"/>
</g>
<g shape-rendering="crispEdges" fill="#000">
<rect x="1514" y="53" width="1" height="1070"/>
<rect x="0" y="950" width="1600" height="1"/>
<rect x="0" y="1039" width="1600" height="1"/>
<rect x="1" y="1122" width="1514" height="1"/>
<rect x="1515" y="914" width="6" height="1"/>
<rect x="1515" y="878" width="6" height="1"/>
<rect x="1515" y="842" width="6" height="1"/>
<rect x="1515" y="806" width="6" height="1"/>
<rect x="1515" y="770" width="6" height="1"/>
<rect x="1515" y="734" width="6" height="1"/>
<rect x="1515" y="698" width="6" height="1"/>
<rect x="1515" y="662" width="6" height="1"/>
<rect x="1515" y="626" width="6" height="1"/>
<rect x="1515" y="590" width="6" height="1"/>
<rect x="1515" y="554" width="6" height="1"/>
<rect x="1515" y="517" width="6" height="1"/>
<rect x="1515" y="481" width="6" height="1"/>
<rect x="1515" y="445" width="6" height="1"/>
<rect x="1515" y="409" width="6" height="1"/>
<rect x="1515" y="373" width="6" height="1"/>
<rect x="1515" y="337" width="6" height="1"/>
<rect x="1515" y="301" width="6" height="1"/>
<rect x="1515" y="265" width="6" height="1"/>
<rect x="1515" y="229" width="6" height="1"/>
<rect x="1515" y="193" width="6" height="1"/>
<rect x="1515" y="157" width="6" height="1"/>
<rect x="1515" y="121" width="6" height="1"/>
<rect x="1515" y="85" width="6" height="1"/>
<rect x="68" y="1123" width="1" height="6"/>
<rect x="140" y="1123" width="1" height="6"/>
<rect x="212" y="1123" width="1" height="6"/>
<rect x="284" y="1123" width="1" height="6"/>
<rect x="356" y="1123" width="1" height="6"/>
<rect x="428" y="1123" width="1" height="6"/>
<rect x="500" y="1123" width="1" height="6"/>
<rect x="572" y="1123" width="1" height="6"/>
<rect x="644" y="1123" width="1" height="6"/>
<rect x="716" y="1123" width="1" height="6"/>
<rect x="842" y="1123" width="1" height="6"/>
<rect x="914" y="1123" width="1" height="6"/>
<rect x="986" y="1123" width="1" height="6"/>
<rect x="1058" y="1123" width="1" height="6"/>
<rect x="1130" y="1123" width="1" height="6"/>
<rect x="1202" y="1123" width="1" height="6"/>
<rect x="1274" y="1123" width="1" height="6"/>
<rect x="1346" y="1123" width="1" height="6"/>
<rect x="1418" y="1123" width="1" height="6"/>
<rect x="1515" y="980" width="6" height="1"/>
<rect x="1515" y="1030" width="6" height="1"/>
<rect x="1515" y="1077" width="4" height="1"/>
</g>
<text x="1522.5" y="919.7" font-size="16">2334,00</text>
<text x="1522.5" y="883.7" font-size="16">2335,00</text>
<text x="1522.5" y="847.7" font-size="16">2336,00</text>
<text x="1522.5" y="811.7" font-size="16">2337,00</text>
<text x="1522.5" y="775.7" font-size="16">2338,00</text>
<text x="1522.5" y="739.7" font-size="16">2339,00</text>
<text x="1522.5" y="703.7" font-size="16">2340,00</text>
<text x="1522.5" y="667.7" font-size="16">2341,00</text>
<text x="1522.5" y="631.7" font-size="16">2342,00</text>
<text x="1522.5" y="595.7" font-size="16">2343,00</text>
<text x="1522.5" y="559.7" font-size="16">2344,00</text>
<text x="1522.5" y="522.7" font-size="16">2345,00</text>
<text x="1522.5" y="486.7" font-size="16">2346,00</text>
<text x="1522.5" y="450.7" font-size="16">2347,00</text>
<text x="1522.5" y="414.7" font-size="16">2348,00</text>
<text x="1522.5" y="378.7" font-size="16">2349,00</text>
<text x="1522.5" y="342.7" font-size="16">2350,00</text>
<text x="1522.5" y="306.7" font-size="16">2351,00</text>
<text x="1522.5" y="270.7" font-size="16">2352,00</text>
<text x="1522.5" y="234.7" font-size="16">2353,00</text>
<text x="1522.5" y="198.7" font-size="16">2354,00</text>
<text x="1522.5" y="162.7" font-size="16">2355,00</text>
<text x="1522.5" y="126.7" font-size="16">2356,00</text>
<text x="1522.5" y="90.7" font-size="16">2357,00</text>
<text x="68.5" y="1143.8" font-size="16" text-anchor="middle">13:00</text>
<text x="140.5" y="1143.8" font-size="16" text-anchor="middle">14:00</text>
<text x="212.5" y="1143.8" font-size="16" text-anchor="middle">15:00</text>
<text x="284.5" y="1143.8" font-size="16" text-anchor="middle">16:00</text>
<text x="356.5" y="1143.8" font-size="16" text-anchor="middle">17:00</text>
<text x="428.5" y="1143.8" font-size="16" text-anchor="middle">18:00</text>
<text x="500.5" y="1143.8" font-size="16" text-anchor="middle">19:00</text>
<text x="572.5" y="1143.8" font-size="16" text-anchor="middle">20:00</text>
<text x="644.5" y="1143.8" font-size="16" text-anchor="middle">21:00</text>
<text x="716.5" y="1143.8" font-size="16" text-anchor="middle">22:00</text>
<text x="842.5" y="1143.8" font-size="16" text-anchor="middle">4/13</text>
<text x="914.5" y="1143.8" font-size="16" text-anchor="middle">02:00</text>
<text x="986.5" y="1143.8" font-size="16" text-anchor="middle">03:00</text>
<text x="1058.5" y="1143.8" font-size="16" text-anchor="middle">04:00</text>
<text x="1130.5" y="1143.8" font-size="16" text-anchor="middle">05:00</text>
<text x="1202.5" y="1143.8" font-size="16" text-anchor="middle">06:00</text>
<text x="1274.5" y="1143.8" font-size="16" text-anchor="middle">07:00</text>
<text x="1346.5" y="1143.8" font-size="16" text-anchor="middle">08:00</text>
<text x="1418.5" y="1143.8" font-size="16" text-anchor="middle">09:00</text>
<text x="1524" y="986" font-size="16">2</text>
<text x="1524" y="1036" font-size="16">0</text>
<polygon points="1515.5,634.5 1525.5,624.5 1588.5,624.5 1588.5,644.5 1525.5,644.5" fill="#ffff00" stroke="#000" stroke-width="1"/>
<text x="1527.5" y="640.0" font-size="16" fill="#000">2341,75</text>
<polygon points="1515.5,995.5 1525.5,985.5 1561.5,985.5 1561.5,1005.5 1525.5,1005.5" fill="#0000ff" stroke="#000" stroke-width="1"/>
<text x="1529" y="1001.0" font-size="16" fill="#fff">1,38</text>
<polygon points="1515.5,1080.5 1525.5,1070.5 1566.5,1070.5 1566.5,1090.5 1525.5,1090.5" fill="#ff4500" stroke="#000" stroke-width="1"/>
<text x="1527.6" y="1086.0" font-size="16" fill="#fff">-1,18</text>
<polygon points="1515.5,1062.5 1525.5,1052.5 1561.5,1052.5 1561.5,1072.5 1525.5,1072.5" fill="#008000" stroke="#000" stroke-width="1"/>
<text x="1527.8" y="1068.0" font-size="16" fill="#fff">4,07</text>
<text x="4.5" y="68.6" font-size="16">Bollinger(ES 06-17 (5 Min),1,9,50)</text>
<text x="4.5" y="86" font-size="16">Last Trade 0</text>
<text x="4.5" y="103.7" font-size="16" xml:space="preserve">Daily PnL  0</text>
<text x="1394" y="86.2" font-size="16">Longs Enabled</text>
<text x="1394" y="103.7" font-size="16">Shorts Enabled</text>
<text x="1367.3" y="924.6" font-size="11" textLength="77.5" lengthAdjust="spacing">Longs @ Arrow</text>
<text x="1450.3" y="924.6" font-size="11" textLength="30.8" lengthAdjust="spacing">Green</text>
<text x="1367.3" y="936.5" font-size="11" textLength="78" lengthAdjust="spacing">Shorts @ Arrow</text>
<text x="1450.3" y="936.5" font-size="11" textLength="58.8" lengthAdjust="spacing">OrangeRed</text>
<text x="2.7" y="1119.5" font-size="11" textLength="124" lengthAdjust="spacing">© 2017 NinjaTrader, LLC</text>
<text x="350" y="1136" font-size="27" font-style="italic" fill="#f5303f" stroke="#f5303f" stroke-width="0.5" style="font-family:'Liberation Serif',serif" textLength="835" lengthAdjust="spacing">www.forex-warez.com, andreybbrv@gmail.com, Skype: andreybbrv</text>
</g>
<path d="M1600,1057.5 H1579 Q1575.5,1057.5 1575.5,1061 V1093.5" fill="none" stroke="#c9d0d8" stroke-width="1"/>
<path d="M1575.5,1093.5 L1600,1109.5" fill="none" stroke="#9aa0a8" stroke-width="1" stroke-dasharray="2 1.5"/>
<rect x="1579" y="1063" width="20" height="20" fill="url(#tv)"/>
<circle cx="1589" cy="1073" r="8.8" fill="#fff"/>
<path d="M1582,1073 L1585.5,1070.3 V1072.2 H1592.5 V1070.3 L1596,1073 L1592.5,1075.7 V1073.8 H1585.5 V1075.7 Z" fill="#2a86e6"/>
</svg></body></html>
